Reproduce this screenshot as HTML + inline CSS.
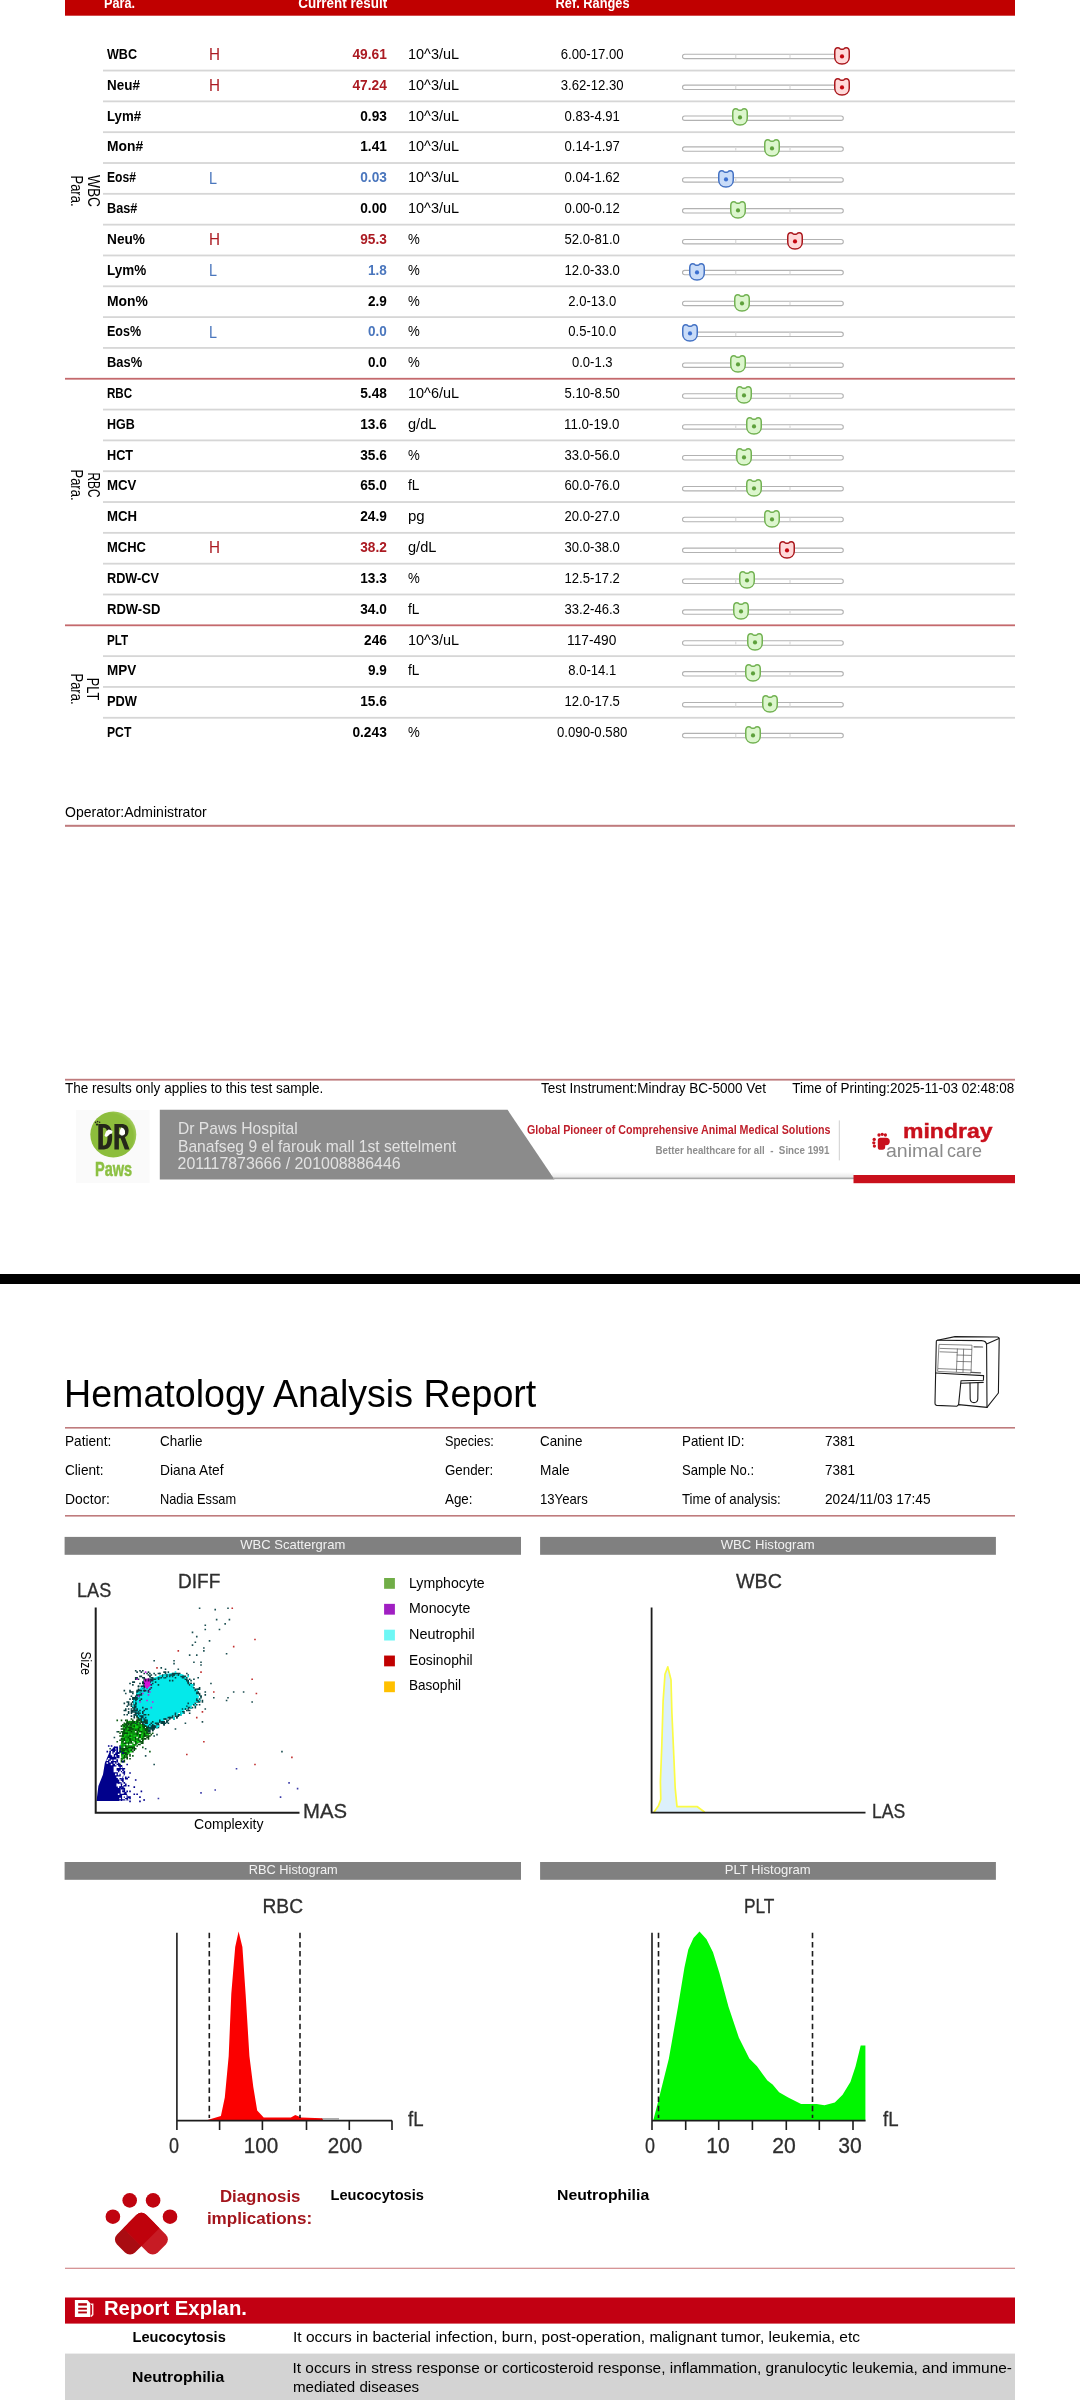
<!DOCTYPE html>
<html><head><meta charset="utf-8"><title>Hematology Analysis Report</title>
<style>
html,body{margin:0;padding:0;background:#fff}
body{width:1080px;height:2400px;position:relative;overflow:hidden;font-family:"Liberation Sans",sans-serif;color:#000}
.t{position:absolute;white-space:pre;line-height:1;margin:0;padding:0}
#pg{position:absolute;left:0;top:0;width:1080px;height:2400px;will-change:transform}
.r,.a{position:absolute;display:block}
.trk{width:161.5px;height:5.5px;box-sizing:border-box;border:1.1px solid #b4b4b4;border-radius:3px;background:#fff}
.trk i{position:absolute;top:0;width:1.4px;height:100%;background:#dcdcdc}
</style></head><body><div id="pg">
<svg class="a" style="left:0;top:0" width="1080" height="2400" viewBox="0 0 1080 2400">
<rect x="65.00" y="0.00" width="950.00" height="15.70" fill="#c00000"/>
<rect x="103.00" y="69.65" width="912.00" height="1.80" fill="#d6d6d6"/>
<rect x="682.5" y="54.25" width="160.8" height="4.4" rx="2.2" fill="#fff" stroke="#b2b2b2" stroke-width="1.1"/><rect x="735" y="54.80" width="1.4" height="3.3" fill="#dedede"/><rect x="789.3" y="54.80" width="1.4" height="3.3" fill="#dedede"/>
<rect x="103.00" y="100.47" width="912.00" height="1.80" fill="#d6d6d6"/>
<rect x="682.5" y="85.12" width="160.8" height="4.4" rx="2.2" fill="#fff" stroke="#b2b2b2" stroke-width="1.1"/><rect x="735" y="85.67" width="1.4" height="3.3" fill="#dedede"/><rect x="789.3" y="85.67" width="1.4" height="3.3" fill="#dedede"/>
<rect x="103.00" y="131.29" width="912.00" height="1.80" fill="#d6d6d6"/>
<rect x="682.5" y="115.99" width="160.8" height="4.4" rx="2.2" fill="#fff" stroke="#b2b2b2" stroke-width="1.1"/><rect x="735" y="116.54" width="1.4" height="3.3" fill="#dedede"/><rect x="789.3" y="116.54" width="1.4" height="3.3" fill="#dedede"/>
<rect x="103.00" y="162.11" width="912.00" height="1.80" fill="#d6d6d6"/>
<rect x="682.5" y="146.86" width="160.8" height="4.4" rx="2.2" fill="#fff" stroke="#b2b2b2" stroke-width="1.1"/><rect x="735" y="147.41" width="1.4" height="3.3" fill="#dedede"/><rect x="789.3" y="147.41" width="1.4" height="3.3" fill="#dedede"/>
<rect x="103.00" y="192.93" width="912.00" height="1.80" fill="#d6d6d6"/>
<rect x="682.5" y="177.73" width="160.8" height="4.4" rx="2.2" fill="#fff" stroke="#b2b2b2" stroke-width="1.1"/><rect x="735" y="178.28" width="1.4" height="3.3" fill="#dedede"/><rect x="789.3" y="178.28" width="1.4" height="3.3" fill="#dedede"/>
<rect x="103.00" y="223.75" width="912.00" height="1.80" fill="#d6d6d6"/>
<rect x="682.5" y="208.60" width="160.8" height="4.4" rx="2.2" fill="#fff" stroke="#b2b2b2" stroke-width="1.1"/><rect x="735" y="209.15" width="1.4" height="3.3" fill="#dedede"/><rect x="789.3" y="209.15" width="1.4" height="3.3" fill="#dedede"/>
<rect x="103.00" y="254.57" width="912.00" height="1.80" fill="#d6d6d6"/>
<rect x="682.5" y="239.47" width="160.8" height="4.4" rx="2.2" fill="#fff" stroke="#b2b2b2" stroke-width="1.1"/><rect x="735" y="240.02" width="1.4" height="3.3" fill="#dedede"/><rect x="789.3" y="240.02" width="1.4" height="3.3" fill="#dedede"/>
<rect x="103.00" y="285.39" width="912.00" height="1.80" fill="#d6d6d6"/>
<rect x="682.5" y="270.34" width="160.8" height="4.4" rx="2.2" fill="#fff" stroke="#b2b2b2" stroke-width="1.1"/><rect x="735" y="270.89" width="1.4" height="3.3" fill="#dedede"/><rect x="789.3" y="270.89" width="1.4" height="3.3" fill="#dedede"/>
<rect x="103.00" y="316.21" width="912.00" height="1.80" fill="#d6d6d6"/>
<rect x="682.5" y="301.21" width="160.8" height="4.4" rx="2.2" fill="#fff" stroke="#b2b2b2" stroke-width="1.1"/><rect x="735" y="301.76" width="1.4" height="3.3" fill="#dedede"/><rect x="789.3" y="301.76" width="1.4" height="3.3" fill="#dedede"/>
<rect x="103.00" y="347.03" width="912.00" height="1.80" fill="#d6d6d6"/>
<rect x="682.5" y="332.08" width="160.8" height="4.4" rx="2.2" fill="#fff" stroke="#b2b2b2" stroke-width="1.1"/><rect x="735" y="332.63" width="1.4" height="3.3" fill="#dedede"/><rect x="789.3" y="332.63" width="1.4" height="3.3" fill="#dedede"/>
<rect x="65.00" y="377.85" width="950.00" height="1.80" fill="#c4696c"/>
<rect x="682.5" y="362.95" width="160.8" height="4.4" rx="2.2" fill="#fff" stroke="#b2b2b2" stroke-width="1.1"/><rect x="735" y="363.50" width="1.4" height="3.3" fill="#dedede"/><rect x="789.3" y="363.50" width="1.4" height="3.3" fill="#dedede"/>
<rect x="103.00" y="408.67" width="912.00" height="1.80" fill="#d6d6d6"/>
<rect x="682.5" y="393.82" width="160.8" height="4.4" rx="2.2" fill="#fff" stroke="#b2b2b2" stroke-width="1.1"/><rect x="735" y="394.37" width="1.4" height="3.3" fill="#dedede"/><rect x="789.3" y="394.37" width="1.4" height="3.3" fill="#dedede"/>
<rect x="103.00" y="439.49" width="912.00" height="1.80" fill="#d6d6d6"/>
<rect x="682.5" y="424.69" width="160.8" height="4.4" rx="2.2" fill="#fff" stroke="#b2b2b2" stroke-width="1.1"/><rect x="735" y="425.24" width="1.4" height="3.3" fill="#dedede"/><rect x="789.3" y="425.24" width="1.4" height="3.3" fill="#dedede"/>
<rect x="103.00" y="470.31" width="912.00" height="1.80" fill="#d6d6d6"/>
<rect x="682.5" y="455.56" width="160.8" height="4.4" rx="2.2" fill="#fff" stroke="#b2b2b2" stroke-width="1.1"/><rect x="735" y="456.11" width="1.4" height="3.3" fill="#dedede"/><rect x="789.3" y="456.11" width="1.4" height="3.3" fill="#dedede"/>
<rect x="103.00" y="501.13" width="912.00" height="1.80" fill="#d6d6d6"/>
<rect x="682.5" y="486.43" width="160.8" height="4.4" rx="2.2" fill="#fff" stroke="#b2b2b2" stroke-width="1.1"/><rect x="735" y="486.98" width="1.4" height="3.3" fill="#dedede"/><rect x="789.3" y="486.98" width="1.4" height="3.3" fill="#dedede"/>
<rect x="103.00" y="531.95" width="912.00" height="1.80" fill="#d6d6d6"/>
<rect x="682.5" y="517.30" width="160.8" height="4.4" rx="2.2" fill="#fff" stroke="#b2b2b2" stroke-width="1.1"/><rect x="735" y="517.85" width="1.4" height="3.3" fill="#dedede"/><rect x="789.3" y="517.85" width="1.4" height="3.3" fill="#dedede"/>
<rect x="103.00" y="562.77" width="912.00" height="1.80" fill="#d6d6d6"/>
<rect x="682.5" y="548.17" width="160.8" height="4.4" rx="2.2" fill="#fff" stroke="#b2b2b2" stroke-width="1.1"/><rect x="735" y="548.72" width="1.4" height="3.3" fill="#dedede"/><rect x="789.3" y="548.72" width="1.4" height="3.3" fill="#dedede"/>
<rect x="103.00" y="593.59" width="912.00" height="1.80" fill="#d6d6d6"/>
<rect x="682.5" y="579.04" width="160.8" height="4.4" rx="2.2" fill="#fff" stroke="#b2b2b2" stroke-width="1.1"/><rect x="735" y="579.59" width="1.4" height="3.3" fill="#dedede"/><rect x="789.3" y="579.59" width="1.4" height="3.3" fill="#dedede"/>
<rect x="65.00" y="624.41" width="950.00" height="1.80" fill="#c4696c"/>
<rect x="682.5" y="609.91" width="160.8" height="4.4" rx="2.2" fill="#fff" stroke="#b2b2b2" stroke-width="1.1"/><rect x="735" y="610.46" width="1.4" height="3.3" fill="#dedede"/><rect x="789.3" y="610.46" width="1.4" height="3.3" fill="#dedede"/>
<rect x="103.00" y="655.23" width="912.00" height="1.80" fill="#d6d6d6"/>
<rect x="682.5" y="640.78" width="160.8" height="4.4" rx="2.2" fill="#fff" stroke="#b2b2b2" stroke-width="1.1"/><rect x="735" y="641.33" width="1.4" height="3.3" fill="#dedede"/><rect x="789.3" y="641.33" width="1.4" height="3.3" fill="#dedede"/>
<rect x="103.00" y="686.05" width="912.00" height="1.80" fill="#d6d6d6"/>
<rect x="682.5" y="671.65" width="160.8" height="4.4" rx="2.2" fill="#fff" stroke="#b2b2b2" stroke-width="1.1"/><rect x="735" y="672.20" width="1.4" height="3.3" fill="#dedede"/><rect x="789.3" y="672.20" width="1.4" height="3.3" fill="#dedede"/>
<rect x="103.00" y="716.87" width="912.00" height="1.80" fill="#d6d6d6"/>
<rect x="682.5" y="702.52" width="160.8" height="4.4" rx="2.2" fill="#fff" stroke="#b2b2b2" stroke-width="1.1"/><rect x="735" y="703.07" width="1.4" height="3.3" fill="#dedede"/><rect x="789.3" y="703.07" width="1.4" height="3.3" fill="#dedede"/>
<rect x="682.5" y="733.39" width="160.8" height="4.4" rx="2.2" fill="#fff" stroke="#b2b2b2" stroke-width="1.1"/><rect x="735" y="733.94" width="1.4" height="3.3" fill="#dedede"/><rect x="789.3" y="733.94" width="1.4" height="3.3" fill="#dedede"/>
<rect x="65.00" y="824.80" width="950.00" height="2.00" fill="#bf7b7d"/>
<rect x="65.00" y="1078.80" width="950.00" height="1.80" fill="#bf7b7d"/>
<rect x="0.00" y="1274.00" width="1080.00" height="10.00" fill="#000"/>
<rect x="65.00" y="1427.00" width="950.00" height="1.60" fill="#bf7b7d"/>
<rect x="65.00" y="1515.00" width="950.00" height="1.60" fill="#bf7b7d"/>
<rect x="64.60" y="1536.90" width="456.40" height="17.90" fill="#808080"/>
<rect x="540.10" y="1536.90" width="455.80" height="17.90" fill="#808080"/>
<rect x="64.60" y="1862.00" width="456.40" height="17.80" fill="#808080"/>
<rect x="540.10" y="1862.00" width="455.80" height="17.80" fill="#808080"/>
<rect x="384.10" y="1578.00" width="10.80" height="10.80" fill="#70ad47"/>
<rect x="384.10" y="1603.85" width="10.80" height="10.80" fill="#a01fc2"/>
<rect x="384.10" y="1629.70" width="10.80" height="10.80" fill="#6df7f5"/>
<rect x="384.10" y="1655.55" width="10.80" height="10.80" fill="#c00000"/>
<rect x="384.10" y="1681.40" width="10.80" height="10.80" fill="#ffc000"/>
<rect x="65.00" y="2267.70" width="950.00" height="1.20" fill="#d28a8c"/>
<rect x="65.00" y="2297.50" width="950.00" height="26.10" fill="#c20012"/>
<rect x="65.00" y="2353.60" width="950.00" height="46.40" fill="#d3d3d3"/>
</svg>
<!-- table -->
<div class="t" style="top:-4.39px;font-size:14.40px;color:#fff;font-weight:700;left:103.50px;transform:scaleX(0.8801);transform-origin:0 0;">Para.</div>
<div class="t" style="top:-4.39px;font-size:14.40px;color:#fff;font-weight:700;left:292.29px;transform:scaleX(0.9348);transform-origin:100% 0;">Current result</div>
<div class="t" style="top:-4.39px;font-size:14.40px;color:#fff;font-weight:700;left:550.79px;transform:scaleX(0.8893);transform-origin:50% 0;">Ref. Ranges</div>
<div class="t" style="top:46.95px;font-size:14.30px;color:#000;font-weight:700;left:107.30px;transform:scaleX(0.8786);transform-origin:0 0;">WBC</div>
<div class="t" style="top:46.34px;font-size:16.20px;color:#ab1a22;left:208.60px;transform:scaleX(0.9403);transform-origin:0 0;">H</div>
<div class="t" style="top:46.95px;font-size:14.30px;color:#ab1a22;font-weight:700;left:351.21px;transform:scaleX(0.9612);transform-origin:100% 0;">49.61</div>
<div class="t" style="top:46.95px;font-size:14.30px;color:#000;left:407.50px;transform:scaleX(1.0121);transform-origin:0 0;">10^3/uL</div>
<div class="t" style="top:46.95px;font-size:14.30px;color:#000;left:557.81px;transform:scaleX(0.9186);transform-origin:50% 0;">6.00-17.00</div>
<svg class="a" style="left:832.80px;top:45.65px" width="18" height="20" viewBox="-1 -1 18 20"><path d="M0.75 4.8 C0.75 1.6 2.2 0.75 3.8 0.75 C5 0.75 5.6 1.3 6.1 1.8 Q8 2.9 9.9 1.8 C10.4 1.3 11 0.75 12.2 0.75 C13.8 0.75 15.25 1.6 15.25 4.8 L15.25 10.2 C15.25 14.6 12 17 8 17 C4 17 0.75 14.6 0.75 10.2 Z" fill="#ffd9d9" stroke="#aa171c" stroke-width="1.5"/><circle cx="8" cy="9.4" r="2.1" fill="#c4060f"/></svg>
<div class="t" style="top:77.77px;font-size:14.30px;color:#000;font-weight:700;left:107.30px;transform:scaleX(0.9409);transform-origin:0 0;">Neu#</div>
<div class="t" style="top:77.16px;font-size:16.20px;color:#ab1a22;left:208.60px;transform:scaleX(0.9403);transform-origin:0 0;">H</div>
<div class="t" style="top:77.77px;font-size:14.30px;color:#ab1a22;font-weight:700;left:351.21px;transform:scaleX(0.9612);transform-origin:100% 0;">47.24</div>
<div class="t" style="top:77.77px;font-size:14.30px;color:#000;left:407.50px;transform:scaleX(1.0121);transform-origin:0 0;">10^3/uL</div>
<div class="t" style="top:77.77px;font-size:14.30px;color:#000;left:557.81px;transform:scaleX(0.9186);transform-origin:50% 0;">3.62-12.30</div>
<svg class="a" style="left:832.80px;top:76.52px" width="18" height="20" viewBox="-1 -1 18 20"><path d="M0.75 4.8 C0.75 1.6 2.2 0.75 3.8 0.75 C5 0.75 5.6 1.3 6.1 1.8 Q8 2.9 9.9 1.8 C10.4 1.3 11 0.75 12.2 0.75 C13.8 0.75 15.25 1.6 15.25 4.8 L15.25 10.2 C15.25 14.6 12 17 8 17 C4 17 0.75 14.6 0.75 10.2 Z" fill="#ffd9d9" stroke="#aa171c" stroke-width="1.5"/><circle cx="8" cy="9.4" r="2.1" fill="#c4060f"/></svg>
<div class="t" style="top:108.59px;font-size:14.30px;color:#000;font-weight:700;left:107.30px;transform:scaleX(0.9259);transform-origin:0 0;">Lym#</div>
<div class="t" style="top:108.59px;font-size:14.30px;color:#000;font-weight:700;left:359.16px;transform:scaleX(0.9556);transform-origin:100% 0;">0.93</div>
<div class="t" style="top:108.59px;font-size:14.30px;color:#000;left:407.50px;transform:scaleX(1.0121);transform-origin:0 0;">10^3/uL</div>
<div class="t" style="top:108.59px;font-size:14.30px;color:#000;left:561.78px;transform:scaleX(0.9165);transform-origin:50% 0;">0.83-4.91</div>
<svg class="a" style="left:731.00px;top:107.39px" width="18" height="20" viewBox="-1 -1 18 20"><path d="M0.75 4.8 C0.75 1.6 2.2 0.75 3.8 0.75 C5 0.75 5.6 1.3 6.1 1.8 Q8 2.9 9.9 1.8 C10.4 1.3 11 0.75 12.2 0.75 C13.8 0.75 15.25 1.6 15.25 4.8 L15.25 10.2 C15.25 14.6 12 17 8 17 C4 17 0.75 14.6 0.75 10.2 Z" fill="#dcf6cd" stroke="#72b252" stroke-width="1.5"/><circle cx="8" cy="9.4" r="2.1" fill="#5ea13c"/></svg>
<div class="t" style="top:139.41px;font-size:14.30px;color:#000;font-weight:700;left:107.30px;transform:scaleX(0.9670);transform-origin:0 0;">Mon#</div>
<div class="t" style="top:139.41px;font-size:14.30px;color:#000;font-weight:700;left:359.16px;transform:scaleX(0.9556);transform-origin:100% 0;">1.41</div>
<div class="t" style="top:139.41px;font-size:14.30px;color:#000;left:407.50px;transform:scaleX(1.0121);transform-origin:0 0;">10^3/uL</div>
<div class="t" style="top:139.41px;font-size:14.30px;color:#000;left:561.78px;transform:scaleX(0.9165);transform-origin:50% 0;">0.14-1.97</div>
<svg class="a" style="left:762.90px;top:138.26px" width="18" height="20" viewBox="-1 -1 18 20"><path d="M0.75 4.8 C0.75 1.6 2.2 0.75 3.8 0.75 C5 0.75 5.6 1.3 6.1 1.8 Q8 2.9 9.9 1.8 C10.4 1.3 11 0.75 12.2 0.75 C13.8 0.75 15.25 1.6 15.25 4.8 L15.25 10.2 C15.25 14.6 12 17 8 17 C4 17 0.75 14.6 0.75 10.2 Z" fill="#dcf6cd" stroke="#72b252" stroke-width="1.5"/><circle cx="8" cy="9.4" r="2.1" fill="#5ea13c"/></svg>
<div class="t" style="top:170.23px;font-size:14.30px;color:#000;font-weight:700;left:107.30px;transform:scaleX(0.8485);transform-origin:0 0;">Eos#</div>
<div class="t" style="top:169.62px;font-size:16.20px;color:#4a76bd;left:209.00px;transform:scaleX(0.8878);transform-origin:0 0;">L</div>
<div class="t" style="top:170.23px;font-size:14.30px;color:#4a76bd;font-weight:700;left:359.16px;transform:scaleX(0.9556);transform-origin:100% 0;">0.03</div>
<div class="t" style="top:170.23px;font-size:14.30px;color:#000;left:407.50px;transform:scaleX(1.0121);transform-origin:0 0;">10^3/uL</div>
<div class="t" style="top:170.23px;font-size:14.30px;color:#000;left:561.78px;transform:scaleX(0.9165);transform-origin:50% 0;">0.04-1.62</div>
<svg class="a" style="left:716.90px;top:169.13px" width="18" height="20" viewBox="-1 -1 18 20"><path d="M0.75 4.8 C0.75 1.6 2.2 0.75 3.8 0.75 C5 0.75 5.6 1.3 6.1 1.8 Q8 2.9 9.9 1.8 C10.4 1.3 11 0.75 12.2 0.75 C13.8 0.75 15.25 1.6 15.25 4.8 L15.25 10.2 C15.25 14.6 12 17 8 17 C4 17 0.75 14.6 0.75 10.2 Z" fill="#c9dcf8" stroke="#4472c4" stroke-width="1.5"/><circle cx="8" cy="9.4" r="2.1" fill="#3b6fd0"/></svg>
<div class="t" style="top:201.05px;font-size:14.30px;color:#000;font-weight:700;left:107.30px;transform:scaleX(0.8863);transform-origin:0 0;">Bas#</div>
<div class="t" style="top:201.05px;font-size:14.30px;color:#000;font-weight:700;left:359.16px;transform:scaleX(0.9556);transform-origin:100% 0;">0.00</div>
<div class="t" style="top:201.05px;font-size:14.30px;color:#000;left:407.50px;transform:scaleX(1.0121);transform-origin:0 0;">10^3/uL</div>
<div class="t" style="top:201.05px;font-size:14.30px;color:#000;left:561.78px;transform:scaleX(0.9165);transform-origin:50% 0;">0.00-0.12</div>
<svg class="a" style="left:729.00px;top:200.00px" width="18" height="20" viewBox="-1 -1 18 20"><path d="M0.75 4.8 C0.75 1.6 2.2 0.75 3.8 0.75 C5 0.75 5.6 1.3 6.1 1.8 Q8 2.9 9.9 1.8 C10.4 1.3 11 0.75 12.2 0.75 C13.8 0.75 15.25 1.6 15.25 4.8 L15.25 10.2 C15.25 14.6 12 17 8 17 C4 17 0.75 14.6 0.75 10.2 Z" fill="#dcf6cd" stroke="#72b252" stroke-width="1.5"/><circle cx="8" cy="9.4" r="2.1" fill="#5ea13c"/></svg>
<div class="t" style="top:231.87px;font-size:14.30px;color:#000;font-weight:700;left:107.30px;transform:scaleX(0.9565);transform-origin:0 0;">Neu%</div>
<div class="t" style="top:231.26px;font-size:16.20px;color:#ab1a22;left:208.60px;transform:scaleX(0.9403);transform-origin:0 0;">H</div>
<div class="t" style="top:231.87px;font-size:14.30px;color:#ab1a22;font-weight:700;left:359.16px;transform:scaleX(0.9556);transform-origin:100% 0;">95.3</div>
<div class="t" style="top:231.87px;font-size:14.30px;color:#000;left:407.50px;transform:scaleX(0.9267);transform-origin:0 0;">%</div>
<div class="t" style="top:231.87px;font-size:14.30px;color:#000;left:561.78px;transform:scaleX(0.9165);transform-origin:50% 0;">52.0-81.0</div>
<svg class="a" style="left:786.00px;top:230.87px" width="18" height="20" viewBox="-1 -1 18 20"><path d="M0.75 4.8 C0.75 1.6 2.2 0.75 3.8 0.75 C5 0.75 5.6 1.3 6.1 1.8 Q8 2.9 9.9 1.8 C10.4 1.3 11 0.75 12.2 0.75 C13.8 0.75 15.25 1.6 15.25 4.8 L15.25 10.2 C15.25 14.6 12 17 8 17 C4 17 0.75 14.6 0.75 10.2 Z" fill="#ffd9d9" stroke="#aa171c" stroke-width="1.5"/><circle cx="8" cy="9.4" r="2.1" fill="#c4060f"/></svg>
<div class="t" style="top:262.69px;font-size:14.30px;color:#000;font-weight:700;left:107.30px;transform:scaleX(0.9425);transform-origin:0 0;">Lym%</div>
<div class="t" style="top:262.08px;font-size:16.20px;color:#4a76bd;left:209.00px;transform:scaleX(0.8878);transform-origin:0 0;">L</div>
<div class="t" style="top:262.69px;font-size:14.30px;color:#4a76bd;font-weight:700;left:367.12px;transform:scaleX(0.9456);transform-origin:100% 0;">1.8</div>
<div class="t" style="top:262.69px;font-size:14.30px;color:#000;left:407.50px;transform:scaleX(0.9267);transform-origin:0 0;">%</div>
<div class="t" style="top:262.69px;font-size:14.30px;color:#000;left:561.78px;transform:scaleX(0.9165);transform-origin:50% 0;">12.0-33.0</div>
<svg class="a" style="left:688.00px;top:261.74px" width="18" height="20" viewBox="-1 -1 18 20"><path d="M0.75 4.8 C0.75 1.6 2.2 0.75 3.8 0.75 C5 0.75 5.6 1.3 6.1 1.8 Q8 2.9 9.9 1.8 C10.4 1.3 11 0.75 12.2 0.75 C13.8 0.75 15.25 1.6 15.25 4.8 L15.25 10.2 C15.25 14.6 12 17 8 17 C4 17 0.75 14.6 0.75 10.2 Z" fill="#c9dcf8" stroke="#4472c4" stroke-width="1.5"/><circle cx="8" cy="9.4" r="2.1" fill="#3b6fd0"/></svg>
<div class="t" style="top:293.51px;font-size:14.30px;color:#000;font-weight:700;left:107.30px;transform:scaleX(0.9716);transform-origin:0 0;">Mon%</div>
<div class="t" style="top:293.51px;font-size:14.30px;color:#000;font-weight:700;left:367.12px;transform:scaleX(0.9456);transform-origin:100% 0;">2.9</div>
<div class="t" style="top:293.51px;font-size:14.30px;color:#000;left:407.50px;transform:scaleX(0.9267);transform-origin:0 0;">%</div>
<div class="t" style="top:293.51px;font-size:14.30px;color:#000;left:565.76px;transform:scaleX(0.9136);transform-origin:50% 0;">2.0-13.0</div>
<svg class="a" style="left:732.50px;top:292.61px" width="18" height="20" viewBox="-1 -1 18 20"><path d="M0.75 4.8 C0.75 1.6 2.2 0.75 3.8 0.75 C5 0.75 5.6 1.3 6.1 1.8 Q8 2.9 9.9 1.8 C10.4 1.3 11 0.75 12.2 0.75 C13.8 0.75 15.25 1.6 15.25 4.8 L15.25 10.2 C15.25 14.6 12 17 8 17 C4 17 0.75 14.6 0.75 10.2 Z" fill="#dcf6cd" stroke="#72b252" stroke-width="1.5"/><circle cx="8" cy="9.4" r="2.1" fill="#5ea13c"/></svg>
<div class="t" style="top:324.33px;font-size:14.30px;color:#000;font-weight:700;left:107.30px;transform:scaleX(0.8757);transform-origin:0 0;">Eos%</div>
<div class="t" style="top:323.72px;font-size:16.20px;color:#4a76bd;left:209.00px;transform:scaleX(0.8878);transform-origin:0 0;">L</div>
<div class="t" style="top:324.33px;font-size:14.30px;color:#4a76bd;font-weight:700;left:367.12px;transform:scaleX(0.9456);transform-origin:100% 0;">0.0</div>
<div class="t" style="top:324.33px;font-size:14.30px;color:#000;left:407.50px;transform:scaleX(0.9267);transform-origin:0 0;">%</div>
<div class="t" style="top:324.33px;font-size:14.30px;color:#000;left:565.76px;transform:scaleX(0.9136);transform-origin:50% 0;">0.5-10.0</div>
<svg class="a" style="left:681.00px;top:323.48px" width="18" height="20" viewBox="-1 -1 18 20"><path d="M0.75 4.8 C0.75 1.6 2.2 0.75 3.8 0.75 C5 0.75 5.6 1.3 6.1 1.8 Q8 2.9 9.9 1.8 C10.4 1.3 11 0.75 12.2 0.75 C13.8 0.75 15.25 1.6 15.25 4.8 L15.25 10.2 C15.25 14.6 12 17 8 17 C4 17 0.75 14.6 0.75 10.2 Z" fill="#c9dcf8" stroke="#4472c4" stroke-width="1.5"/><circle cx="8" cy="9.4" r="2.1" fill="#3b6fd0"/></svg>
<div class="t" style="top:355.15px;font-size:14.30px;color:#000;font-weight:700;left:107.30px;transform:scaleX(0.9012);transform-origin:0 0;">Bas%</div>
<div class="t" style="top:355.15px;font-size:14.30px;color:#000;font-weight:700;left:367.12px;transform:scaleX(0.9456);transform-origin:100% 0;">0.0</div>
<div class="t" style="top:355.15px;font-size:14.30px;color:#000;left:407.50px;transform:scaleX(0.9267);transform-origin:0 0;">%</div>
<div class="t" style="top:355.15px;font-size:14.30px;color:#000;left:569.74px;transform:scaleX(0.9098);transform-origin:50% 0;">0.0-1.3</div>
<svg class="a" style="left:729.00px;top:354.35px" width="18" height="20" viewBox="-1 -1 18 20"><path d="M0.75 4.8 C0.75 1.6 2.2 0.75 3.8 0.75 C5 0.75 5.6 1.3 6.1 1.8 Q8 2.9 9.9 1.8 C10.4 1.3 11 0.75 12.2 0.75 C13.8 0.75 15.25 1.6 15.25 4.8 L15.25 10.2 C15.25 14.6 12 17 8 17 C4 17 0.75 14.6 0.75 10.2 Z" fill="#dcf6cd" stroke="#72b252" stroke-width="1.5"/><circle cx="8" cy="9.4" r="2.1" fill="#5ea13c"/></svg>
<div class="t" style="top:385.97px;font-size:14.30px;color:#000;font-weight:700;left:107.30px;transform:scaleX(0.8103);transform-origin:0 0;">RBC</div>
<div class="t" style="top:385.97px;font-size:14.30px;color:#000;font-weight:700;left:359.16px;transform:scaleX(0.9556);transform-origin:100% 0;">5.48</div>
<div class="t" style="top:385.97px;font-size:14.30px;color:#000;left:407.50px;transform:scaleX(1.0121);transform-origin:0 0;">10^6/uL</div>
<div class="t" style="top:385.97px;font-size:14.30px;color:#000;left:561.78px;transform:scaleX(0.9165);transform-origin:50% 0;">5.10-8.50</div>
<svg class="a" style="left:734.50px;top:385.22px" width="18" height="20" viewBox="-1 -1 18 20"><path d="M0.75 4.8 C0.75 1.6 2.2 0.75 3.8 0.75 C5 0.75 5.6 1.3 6.1 1.8 Q8 2.9 9.9 1.8 C10.4 1.3 11 0.75 12.2 0.75 C13.8 0.75 15.25 1.6 15.25 4.8 L15.25 10.2 C15.25 14.6 12 17 8 17 C4 17 0.75 14.6 0.75 10.2 Z" fill="#dcf6cd" stroke="#72b252" stroke-width="1.5"/><circle cx="8" cy="9.4" r="2.1" fill="#5ea13c"/></svg>
<div class="t" style="top:416.79px;font-size:14.30px;color:#000;font-weight:700;left:107.30px;transform:scaleX(0.8749);transform-origin:0 0;">HGB</div>
<div class="t" style="top:416.79px;font-size:14.30px;color:#000;font-weight:700;left:359.16px;transform:scaleX(0.9556);transform-origin:100% 0;">13.6</div>
<div class="t" style="top:416.79px;font-size:14.30px;color:#000;left:407.50px;transform:scaleX(1.0203);transform-origin:0 0;">g/dL</div>
<div class="t" style="top:416.79px;font-size:14.30px;color:#000;left:562.31px;transform:scaleX(0.9329);transform-origin:50% 0;">11.0-19.0</div>
<svg class="a" style="left:745.00px;top:416.09px" width="18" height="20" viewBox="-1 -1 18 20"><path d="M0.75 4.8 C0.75 1.6 2.2 0.75 3.8 0.75 C5 0.75 5.6 1.3 6.1 1.8 Q8 2.9 9.9 1.8 C10.4 1.3 11 0.75 12.2 0.75 C13.8 0.75 15.25 1.6 15.25 4.8 L15.25 10.2 C15.25 14.6 12 17 8 17 C4 17 0.75 14.6 0.75 10.2 Z" fill="#dcf6cd" stroke="#72b252" stroke-width="1.5"/><circle cx="8" cy="9.4" r="2.1" fill="#5ea13c"/></svg>
<div class="t" style="top:447.61px;font-size:14.30px;color:#000;font-weight:700;left:107.30px;transform:scaleX(0.8882);transform-origin:0 0;">HCT</div>
<div class="t" style="top:447.61px;font-size:14.30px;color:#000;font-weight:700;left:359.16px;transform:scaleX(0.9556);transform-origin:100% 0;">35.6</div>
<div class="t" style="top:447.61px;font-size:14.30px;color:#000;left:407.50px;transform:scaleX(0.9267);transform-origin:0 0;">%</div>
<div class="t" style="top:447.61px;font-size:14.30px;color:#000;left:561.78px;transform:scaleX(0.9165);transform-origin:50% 0;">33.0-56.0</div>
<svg class="a" style="left:734.50px;top:446.96px" width="18" height="20" viewBox="-1 -1 18 20"><path d="M0.75 4.8 C0.75 1.6 2.2 0.75 3.8 0.75 C5 0.75 5.6 1.3 6.1 1.8 Q8 2.9 9.9 1.8 C10.4 1.3 11 0.75 12.2 0.75 C13.8 0.75 15.25 1.6 15.25 4.8 L15.25 10.2 C15.25 14.6 12 17 8 17 C4 17 0.75 14.6 0.75 10.2 Z" fill="#dcf6cd" stroke="#72b252" stroke-width="1.5"/><circle cx="8" cy="9.4" r="2.1" fill="#5ea13c"/></svg>
<div class="t" style="top:478.43px;font-size:14.30px;color:#000;font-weight:700;left:107.30px;transform:scaleX(0.9253);transform-origin:0 0;">MCV</div>
<div class="t" style="top:478.43px;font-size:14.30px;color:#000;font-weight:700;left:359.16px;transform:scaleX(0.9556);transform-origin:100% 0;">65.0</div>
<div class="t" style="top:478.43px;font-size:14.30px;color:#000;left:407.50px;transform:scaleX(0.9539);transform-origin:0 0;">fL</div>
<div class="t" style="top:478.43px;font-size:14.30px;color:#000;left:561.78px;transform:scaleX(0.9165);transform-origin:50% 0;">60.0-76.0</div>
<svg class="a" style="left:744.50px;top:477.83px" width="18" height="20" viewBox="-1 -1 18 20"><path d="M0.75 4.8 C0.75 1.6 2.2 0.75 3.8 0.75 C5 0.75 5.6 1.3 6.1 1.8 Q8 2.9 9.9 1.8 C10.4 1.3 11 0.75 12.2 0.75 C13.8 0.75 15.25 1.6 15.25 4.8 L15.25 10.2 C15.25 14.6 12 17 8 17 C4 17 0.75 14.6 0.75 10.2 Z" fill="#dcf6cd" stroke="#72b252" stroke-width="1.5"/><circle cx="8" cy="9.4" r="2.1" fill="#5ea13c"/></svg>
<div class="t" style="top:509.25px;font-size:14.30px;color:#000;font-weight:700;left:107.30px;transform:scaleX(0.9213);transform-origin:0 0;">MCH</div>
<div class="t" style="top:509.25px;font-size:14.30px;color:#000;font-weight:700;left:359.16px;transform:scaleX(0.9556);transform-origin:100% 0;">24.9</div>
<div class="t" style="top:509.25px;font-size:14.30px;color:#000;left:407.50px;transform:scaleX(1.0471);transform-origin:0 0;">pg</div>
<div class="t" style="top:509.25px;font-size:14.30px;color:#000;left:561.78px;transform:scaleX(0.9165);transform-origin:50% 0;">20.0-27.0</div>
<svg class="a" style="left:762.50px;top:508.70px" width="18" height="20" viewBox="-1 -1 18 20"><path d="M0.75 4.8 C0.75 1.6 2.2 0.75 3.8 0.75 C5 0.75 5.6 1.3 6.1 1.8 Q8 2.9 9.9 1.8 C10.4 1.3 11 0.75 12.2 0.75 C13.8 0.75 15.25 1.6 15.25 4.8 L15.25 10.2 C15.25 14.6 12 17 8 17 C4 17 0.75 14.6 0.75 10.2 Z" fill="#dcf6cd" stroke="#72b252" stroke-width="1.5"/><circle cx="8" cy="9.4" r="2.1" fill="#5ea13c"/></svg>
<div class="t" style="top:540.07px;font-size:14.30px;color:#000;font-weight:700;left:107.30px;transform:scaleX(0.9070);transform-origin:0 0;">MCHC</div>
<div class="t" style="top:539.46px;font-size:16.20px;color:#ab1a22;left:208.60px;transform:scaleX(0.9403);transform-origin:0 0;">H</div>
<div class="t" style="top:540.07px;font-size:14.30px;color:#ab1a22;font-weight:700;left:359.16px;transform:scaleX(0.9556);transform-origin:100% 0;">38.2</div>
<div class="t" style="top:540.07px;font-size:14.30px;color:#000;left:407.50px;transform:scaleX(1.0203);transform-origin:0 0;">g/dL</div>
<div class="t" style="top:540.07px;font-size:14.30px;color:#000;left:561.78px;transform:scaleX(0.9165);transform-origin:50% 0;">30.0-38.0</div>
<svg class="a" style="left:778.00px;top:539.57px" width="18" height="20" viewBox="-1 -1 18 20"><path d="M0.75 4.8 C0.75 1.6 2.2 0.75 3.8 0.75 C5 0.75 5.6 1.3 6.1 1.8 Q8 2.9 9.9 1.8 C10.4 1.3 11 0.75 12.2 0.75 C13.8 0.75 15.25 1.6 15.25 4.8 L15.25 10.2 C15.25 14.6 12 17 8 17 C4 17 0.75 14.6 0.75 10.2 Z" fill="#ffd9d9" stroke="#aa171c" stroke-width="1.5"/><circle cx="8" cy="9.4" r="2.1" fill="#c4060f"/></svg>
<div class="t" style="top:570.89px;font-size:14.30px;color:#000;font-weight:700;left:107.30px;transform:scaleX(0.8891);transform-origin:0 0;">RDW-CV</div>
<div class="t" style="top:570.89px;font-size:14.30px;color:#000;font-weight:700;left:359.16px;transform:scaleX(0.9556);transform-origin:100% 0;">13.3</div>
<div class="t" style="top:570.89px;font-size:14.30px;color:#000;left:407.50px;transform:scaleX(0.9267);transform-origin:0 0;">%</div>
<div class="t" style="top:570.89px;font-size:14.30px;color:#000;left:561.78px;transform:scaleX(0.9165);transform-origin:50% 0;">12.5-17.2</div>
<svg class="a" style="left:737.50px;top:570.44px" width="18" height="20" viewBox="-1 -1 18 20"><path d="M0.75 4.8 C0.75 1.6 2.2 0.75 3.8 0.75 C5 0.75 5.6 1.3 6.1 1.8 Q8 2.9 9.9 1.8 C10.4 1.3 11 0.75 12.2 0.75 C13.8 0.75 15.25 1.6 15.25 4.8 L15.25 10.2 C15.25 14.6 12 17 8 17 C4 17 0.75 14.6 0.75 10.2 Z" fill="#dcf6cd" stroke="#72b252" stroke-width="1.5"/><circle cx="8" cy="9.4" r="2.1" fill="#5ea13c"/></svg>
<div class="t" style="top:601.71px;font-size:14.30px;color:#000;font-weight:700;left:107.30px;transform:scaleX(0.9113);transform-origin:0 0;">RDW-SD</div>
<div class="t" style="top:601.71px;font-size:14.30px;color:#000;font-weight:700;left:359.16px;transform:scaleX(0.9556);transform-origin:100% 0;">34.0</div>
<div class="t" style="top:601.71px;font-size:14.30px;color:#000;left:407.50px;transform:scaleX(0.9539);transform-origin:0 0;">fL</div>
<div class="t" style="top:601.71px;font-size:14.30px;color:#000;left:561.78px;transform:scaleX(0.9165);transform-origin:50% 0;">33.2-46.3</div>
<svg class="a" style="left:731.50px;top:601.31px" width="18" height="20" viewBox="-1 -1 18 20"><path d="M0.75 4.8 C0.75 1.6 2.2 0.75 3.8 0.75 C5 0.75 5.6 1.3 6.1 1.8 Q8 2.9 9.9 1.8 C10.4 1.3 11 0.75 12.2 0.75 C13.8 0.75 15.25 1.6 15.25 4.8 L15.25 10.2 C15.25 14.6 12 17 8 17 C4 17 0.75 14.6 0.75 10.2 Z" fill="#dcf6cd" stroke="#72b252" stroke-width="1.5"/><circle cx="8" cy="9.4" r="2.1" fill="#5ea13c"/></svg>
<div class="t" style="top:632.53px;font-size:14.30px;color:#000;font-weight:700;left:107.30px;transform:scaleX(0.8172);transform-origin:0 0;">PLT</div>
<div class="t" style="top:632.53px;font-size:14.30px;color:#000;font-weight:700;left:363.14px;transform:scaleX(0.9555);transform-origin:100% 0;">246</div>
<div class="t" style="top:632.53px;font-size:14.30px;color:#000;left:407.50px;transform:scaleX(1.0121);transform-origin:0 0;">10^3/uL</div>
<div class="t" style="top:632.53px;font-size:14.30px;color:#000;left:566.29px;transform:scaleX(0.9603);transform-origin:50% 0;">117-490</div>
<svg class="a" style="left:745.50px;top:632.18px" width="18" height="20" viewBox="-1 -1 18 20"><path d="M0.75 4.8 C0.75 1.6 2.2 0.75 3.8 0.75 C5 0.75 5.6 1.3 6.1 1.8 Q8 2.9 9.9 1.8 C10.4 1.3 11 0.75 12.2 0.75 C13.8 0.75 15.25 1.6 15.25 4.8 L15.25 10.2 C15.25 14.6 12 17 8 17 C4 17 0.75 14.6 0.75 10.2 Z" fill="#dcf6cd" stroke="#72b252" stroke-width="1.5"/><circle cx="8" cy="9.4" r="2.1" fill="#5ea13c"/></svg>
<div class="t" style="top:663.35px;font-size:14.30px;color:#000;font-weight:700;left:107.30px;transform:scaleX(0.9423);transform-origin:0 0;">MPV</div>
<div class="t" style="top:663.35px;font-size:14.30px;color:#000;font-weight:700;left:367.12px;transform:scaleX(0.9456);transform-origin:100% 0;">9.9</div>
<div class="t" style="top:663.35px;font-size:14.30px;color:#000;left:407.50px;transform:scaleX(0.9539);transform-origin:0 0;">fL</div>
<div class="t" style="top:663.35px;font-size:14.30px;color:#000;left:565.76px;transform:scaleX(0.9136);transform-origin:50% 0;">8.0-14.1</div>
<svg class="a" style="left:744.00px;top:663.05px" width="18" height="20" viewBox="-1 -1 18 20"><path d="M0.75 4.8 C0.75 1.6 2.2 0.75 3.8 0.75 C5 0.75 5.6 1.3 6.1 1.8 Q8 2.9 9.9 1.8 C10.4 1.3 11 0.75 12.2 0.75 C13.8 0.75 15.25 1.6 15.25 4.8 L15.25 10.2 C15.25 14.6 12 17 8 17 C4 17 0.75 14.6 0.75 10.2 Z" fill="#dcf6cd" stroke="#72b252" stroke-width="1.5"/><circle cx="8" cy="9.4" r="2.1" fill="#5ea13c"/></svg>
<div class="t" style="top:694.17px;font-size:14.30px;color:#000;font-weight:700;left:107.30px;transform:scaleX(0.8993);transform-origin:0 0;">PDW</div>
<div class="t" style="top:694.17px;font-size:14.30px;color:#000;font-weight:700;left:359.16px;transform:scaleX(0.9556);transform-origin:100% 0;">15.6</div>
<div class="t" style="top:694.17px;font-size:14.30px;color:#000;left:561.78px;transform:scaleX(0.9165);transform-origin:50% 0;">12.0-17.5</div>
<svg class="a" style="left:760.50px;top:693.92px" width="18" height="20" viewBox="-1 -1 18 20"><path d="M0.75 4.8 C0.75 1.6 2.2 0.75 3.8 0.75 C5 0.75 5.6 1.3 6.1 1.8 Q8 2.9 9.9 1.8 C10.4 1.3 11 0.75 12.2 0.75 C13.8 0.75 15.25 1.6 15.25 4.8 L15.25 10.2 C15.25 14.6 12 17 8 17 C4 17 0.75 14.6 0.75 10.2 Z" fill="#dcf6cd" stroke="#72b252" stroke-width="1.5"/><circle cx="8" cy="9.4" r="2.1" fill="#5ea13c"/></svg>
<div class="t" style="top:724.99px;font-size:14.30px;color:#000;font-weight:700;left:107.30px;transform:scaleX(0.8498);transform-origin:0 0;">PCT</div>
<div class="t" style="top:724.99px;font-size:14.30px;color:#000;font-weight:700;left:351.21px;transform:scaleX(0.9612);transform-origin:100% 0;">0.243</div>
<div class="t" style="top:724.99px;font-size:14.30px;color:#000;left:407.50px;transform:scaleX(0.9267);transform-origin:0 0;">%</div>
<div class="t" style="top:724.99px;font-size:14.30px;color:#000;left:553.83px;transform:scaleX(0.9204);transform-origin:50% 0;">0.090-0.580</div>
<svg class="a" style="left:744.00px;top:724.79px" width="18" height="20" viewBox="-1 -1 18 20"><path d="M0.75 4.8 C0.75 1.6 2.2 0.75 3.8 0.75 C5 0.75 5.6 1.3 6.1 1.8 Q8 2.9 9.9 1.8 C10.4 1.3 11 0.75 12.2 0.75 C13.8 0.75 15.25 1.6 15.25 4.8 L15.25 10.2 C15.25 14.6 12 17 8 17 C4 17 0.75 14.6 0.75 10.2 Z" fill="#dcf6cd" stroke="#72b252" stroke-width="1.5"/><circle cx="8" cy="9.4" r="2.1" fill="#5ea13c"/></svg>
<div class="t" style="left:73.88px;top:183.00px;font-size:16.00px;transform:rotate(90deg) scaleX(0.8573);transform-origin:50% 50%;">WBC</div>
<div class="t" style="left:57.22px;top:183.00px;font-size:16.00px;transform:rotate(90deg) scaleX(0.8106);transform-origin:50% 50%;">Para.</div>
<div class="t" style="left:75.65px;top:476.60px;font-size:16.00px;transform:rotate(90deg) scaleX(0.7401);transform-origin:50% 50%;">RBC</div>
<div class="t" style="left:57.22px;top:476.60px;font-size:16.00px;transform:rotate(90deg) scaleX(0.8106);transform-origin:50% 50%;">Para.</div>
<div class="t" style="left:78.47px;top:680.80px;font-size:16.00px;transform:rotate(90deg) scaleX(0.7991);transform-origin:50% 50%;">PLT</div>
<div class="t" style="left:57.22px;top:680.80px;font-size:16.00px;transform:rotate(90deg) scaleX(0.8106);transform-origin:50% 50%;">Para.</div>
<!-- foot1 -->
<div class="t" style="top:805.10px;font-size:14.30px;color:#000;left:65.20px;transform:scaleX(0.9802);transform-origin:0 0;">Operator:Administrator</div>
<div class="t" style="top:1080.90px;font-size:14.30px;color:#000;left:65.40px;transform:scaleX(0.9451);transform-origin:0 0;">The results only applies to this test sample.</div>
<div class="t" style="top:1080.90px;font-size:14.30px;color:#000;left:541.00px;transform:scaleX(0.9467);transform-origin:0 0;">Test Instrument:Mindray BC-5000 Vet</div>
<div class="t" style="top:1080.90px;font-size:14.30px;color:#000;left:779.28px;transform:scaleX(0.9432);transform-origin:100% 0;">Time of Printing:2025-11-03 02:48:08</div>
<svg class="a" style="left:60px;top:1100px" width="970" height="95" viewBox="60 1100 970 95"><defs><linearGradient id="gl" x1="0" y1="0" x2="0" y2="1"><stop offset="0" stop-color="#fff"/><stop offset="1" stop-color="#e4e4e4"/></linearGradient><radialGradient id="gc" cx="0.42" cy="0.55" r="0.6"><stop offset="0.85" stop-color="#8cbd3c"/><stop offset="1" stop-color="#a7cf62"/></radialGradient></defs><rect x="76" y="1110" width="73.5" height="73" fill="#fafafa"/><circle cx="113.3" cy="1134.6" r="23" fill="url(#gc)"/><rect x="552" y="1172" width="302" height="6" fill="url(#gl)"/><polygon points="159.8,1109.8 507.6,1109.8 554.5,1179.4 159.8,1179.4" fill="#8b8b8b"/><rect x="553" y="1177.6" width="301" height="1.6" fill="#a9a9a9"/><rect x="853.5" y="1175" width="161.5" height="8.2" fill="#c9101c"/><rect x="838.8" y="1120.4" width="1" height="40" fill="#cfcfcf"/><g fill="#25281a"><circle cx="97" cy="1124.6" r="1.1"/><circle cx="95.6" cy="1122.4" r="0.8"/><circle cx="97.6" cy="1121.6" r="0.8"/><circle cx="99.6" cy="1122.2" r="0.8"/></g><g fill="#c9101c"><circle cx="879" cy="1135" r="1.65"/><circle cx="882.2" cy="1134.3" r="1.65"/><circle cx="885.4" cy="1135" r="1.65"/><circle cx="874.2" cy="1139.4" r="1.65"/><circle cx="873.8" cy="1142.8" r="1.65"/><circle cx="874.4" cy="1146.1" r="1.65"/><path d="M877.8 1140.4 Q877.8 1137.8 880.4 1137.8 L886 1137.8 Q889.8 1137.8 889.8 1141.4 Q889.8 1145 886 1145.2 L885.2 1145.2 L885.2 1147 Q885.2 1149.8 882.4 1149.8 L880.4 1149.8 Q877.8 1149.8 877.8 1147.2 Z"/></g></svg>
<svg class="a" style="left:96px;top:1120px" width="36" height="32" viewBox="96 1120 36 32"><g fill="#25281a" fill-rule="evenodd"><path d="M98.3 1123.9 H104 C110 1123.9 112.2 1129 112.2 1136.6 C112.2 1144.4 110 1149.4 104 1149.4 H98.3 Z M102.9 1127.7 V1145.6 H104 C106.8 1145.6 107.5 1142 107.5 1136.6 C107.5 1131.2 106.8 1127.7 104 1127.7 Z"/><path d="M114.4 1123.9 H121 C126.5 1123.9 128.6 1126.5 128.6 1130.8 C128.6 1134.3 127 1136.3 124.9 1137.2 L129.6 1149.4 H124.8 L120.6 1138.2 H118.9 V1149.4 H114.4 Z M118.9 1127.6 V1134.6 H120.6 C123 1134.6 124 1133.4 124 1131 C124 1128.7 123 1127.6 120.6 1127.6 Z"/></g><g fill="#fff"><path d="M104.5 1135.5 L106 1131.5 L108.5 1129.5 L110.5 1130 L112.5 1131 L112 1133.5 L110 1134 L108 1136 L106 1137 Z"/><path d="M119.5 1133.5 L120 1130 L121.5 1127.5 L123.5 1128.5 L125 1130.5 L125 1134 L123 1135.5 L121 1135.5 Z"/></g></svg>
<div class="t" style="top:1157.82px;font-size:21.00px;color:#8cc043;font-weight:700;left:95.00px;transform:scaleX(0.6927);transform-origin:0 0;-webkit-text-stroke:0.5px #8cc043;">Paws</div>
<div class="t" style="top:1121.24px;font-size:15.90px;color:#e2e2e2;left:177.60px;transform:scaleX(0.9817);transform-origin:0 0;">Dr Paws Hospital</div>
<div class="t" style="top:1138.94px;font-size:15.90px;color:#e2e2e2;left:177.60px;transform:scaleX(0.9837);transform-origin:0 0;">Banafseg 9 el farouk mall 1st settelment</div>
<div class="t" style="top:1155.84px;font-size:15.90px;color:#e2e2e2;left:177.60px;">201117873666 / 201008886446</div>
<div class="t" style="top:1123.59px;font-size:12.30px;color:#bf1f2b;font-weight:700;left:480.53px;transform:scaleX(0.8685);transform-origin:100% 0;">Global Pioneer of Comprehensive Animal Medical Solutions</div>
<div class="t" style="top:1145.43px;font-size:10.60px;color:#8e8e8e;font-weight:700;left:641.47px;transform:scaleX(0.9229);transform-origin:100% 0;">Better healthcare for all  -  Since 1991</div>
<div class="t" style="top:1121.33px;font-size:20.40px;color:#c9101c;font-weight:700;left:903.20px;transform:scaleX(1.1278);transform-origin:0 0;-webkit-text-stroke:0.4px #c9101c;">mindray</div>
<div class="t" style="top:1141.69px;font-size:18.80px;color:#8b8b8b;left:886.40px;transform:scaleX(1.0401);transform-origin:0 0;">animal</div>
<div class="t" style="top:1141.69px;font-size:18.80px;color:#8b8b8b;left:947.30px;transform:scaleX(0.9570);transform-origin:0 0;">care</div>
<!-- head2 -->
<div class="t" style="top:1374.69px;font-size:38.40px;color:#000;left:63.50px;transform:scaleX(0.9794);transform-origin:0 0;">Hematology Analysis Report</div>
<div class="t" style="top:1433.80px;font-size:14.30px;color:#000;left:65.40px;transform:scaleX(0.9549);transform-origin:0 0;">Patient:</div>
<div class="t" style="top:1462.90px;font-size:14.30px;color:#000;left:65.40px;transform:scaleX(0.9533);transform-origin:0 0;">Client:</div>
<div class="t" style="top:1491.80px;font-size:14.30px;color:#000;left:65.40px;transform:scaleX(0.9744);transform-origin:0 0;">Doctor:</div>
<div class="t" style="top:1433.80px;font-size:14.30px;color:#000;left:160.40px;transform:scaleX(0.9397);transform-origin:0 0;">Charlie</div>
<div class="t" style="top:1462.90px;font-size:14.30px;color:#000;left:160.40px;transform:scaleX(0.9641);transform-origin:0 0;">Diana Atef</div>
<div class="t" style="top:1491.80px;font-size:14.30px;color:#000;left:160.40px;transform:scaleX(0.8956);transform-origin:0 0;">Nadia Essam</div>
<div class="t" style="top:1433.80px;font-size:14.30px;color:#000;left:445.30px;transform:scaleX(0.8908);transform-origin:0 0;">Species:</div>
<div class="t" style="top:1462.90px;font-size:14.30px;color:#000;left:445.30px;transform:scaleX(0.9320);transform-origin:0 0;">Gender:</div>
<div class="t" style="top:1491.80px;font-size:14.30px;color:#000;left:445.30px;transform:scaleX(0.9363);transform-origin:0 0;">Age:</div>
<div class="t" style="top:1433.80px;font-size:14.30px;color:#000;left:540.40px;transform:scaleX(0.9368);transform-origin:0 0;">Canine</div>
<div class="t" style="top:1462.90px;font-size:14.30px;color:#000;left:540.40px;transform:scaleX(0.9561);transform-origin:0 0;">Male</div>
<div class="t" style="top:1491.80px;font-size:14.30px;color:#000;left:540.40px;transform:scaleX(0.9193);transform-origin:0 0;">13Years</div>
<div class="t" style="top:1433.80px;font-size:14.30px;color:#000;left:682.00px;transform:scaleX(0.9361);transform-origin:0 0;">Patient ID:</div>
<div class="t" style="top:1462.90px;font-size:14.30px;color:#000;left:682.00px;transform:scaleX(0.9156);transform-origin:0 0;">Sample No.:</div>
<div class="t" style="top:1491.80px;font-size:14.30px;color:#000;left:682.00px;transform:scaleX(0.9250);transform-origin:0 0;">Time of analysis:</div>
<div class="t" style="top:1433.80px;font-size:14.30px;color:#000;left:825.00px;transform:scaleX(0.9447);transform-origin:0 0;">7381</div>
<div class="t" style="top:1462.90px;font-size:14.30px;color:#000;left:825.00px;transform:scaleX(0.9447);transform-origin:0 0;">7381</div>
<div class="t" style="top:1491.80px;font-size:14.30px;color:#000;left:825.00px;transform:scaleX(0.9574);transform-origin:0 0;">2024/11/03 17:45</div>
<svg class="a" style="left:930px;top:1330px" width="75" height="84" viewBox="930 1330 75 84" fill="none" stroke="#1a1a1a" stroke-width="1.1" stroke-linejoin="round" stroke-linecap="round"><path d="M936.3 1341.8 Q936 1340.6 937.4 1340.2 L955 1336.6 L997.5 1337 Q999.2 1337.2 999.2 1338.8 L998.4 1393 L987 1407.4 L958.6 1404.6 L957 1406.2 L936.6 1405.4 Q934.8 1405 935 1403.2 Z" fill="#fff"/><path d="M937.4 1340.2 L981.5 1340.6 Q986.4 1340.8 986.6 1345 L987 1407.4"/><path d="M986.6 1344 L999 1338.4"/><path d="M935.6 1373 L983.6 1375.6 L983.4 1380.2 L961 1380.8 L958.6 1404.6"/><path d="M961 1383.2 L983.2 1382.4"/><path d="M970 1383 L970.2 1399 Q970.4 1402.6 974 1402.6 Q977.6 1402.6 977.8 1399 L978 1382.6"/><g stroke="#555" stroke-width="0.7"><path d="M939.4 1344.4 L972 1345.2 L971 1373 L938 1371.4 Z"/><path d="M940 1348.4 L971.6 1349.4 M957.4 1349 L956.4 1371.8 M963.6 1349.2 L963 1372.2 M957 1355 L971.2 1355.4 M957 1361.4 L971 1361.8 M938.4 1368.6 L971 1370 M940 1351.8 L957 1352.4"/><path d="M974 1346.8 L982.6 1347 M971 1372.4 L980.6 1372.8" stroke-width="1.2"/></g></svg>
<!-- charts -->
<div class="t" style="top:1537.99px;font-size:13.60px;color:#f2f2f2;left:238.01px;transform:scaleX(0.9582);transform-origin:50% 0;">WBC Scattergram</div>
<div class="t" style="top:1537.99px;font-size:13.60px;color:#f2f2f2;left:719.26px;transform:scaleX(0.9643);transform-origin:50% 0;">WBC Histogram</div>
<div class="t" style="top:1863.09px;font-size:13.60px;color:#f2f2f2;left:245.57px;transform:scaleX(0.9422);transform-origin:50% 0;">RBC Histogram</div>
<div class="t" style="top:1863.09px;font-size:13.60px;color:#f2f2f2;left:723.28px;transform:scaleX(0.9616);transform-origin:50% 0;">PLT Histogram</div>
<div class="t" style="top:1576.10px;font-size:14.30px;color:#000;left:409.30px;transform:scaleX(0.9887);transform-origin:0 0;">Lymphocyte</div>
<div class="t" style="top:1601.30px;font-size:14.30px;color:#000;left:409.30px;transform:scaleX(0.9889);transform-origin:0 0;">Monocyte</div>
<div class="t" style="top:1626.80px;font-size:14.30px;color:#000;left:409.30px;transform:scaleX(1.0081);transform-origin:0 0;">Neutrophil</div>
<div class="t" style="top:1652.70px;font-size:14.30px;color:#000;left:409.30px;transform:scaleX(0.9647);transform-origin:0 0;">Eosinophil</div>
<div class="t" style="top:1677.90px;font-size:14.30px;color:#000;left:409.30px;transform:scaleX(0.9473);transform-origin:0 0;">Basophil</div>
<svg class="a" style="left:70px;top:1595px" width="290" height="230" viewBox="70 1595 290 230">
<polygon points="132.8,1701.9 139.3,1688.9 148.3,1679.8 162.6,1674.6 173.0,1672.7 183.3,1674.6 189.8,1682.4 196.3,1691.5 198.9,1698.0 193.7,1704.4 183.3,1710.9 167.8,1718.7 154.8,1725.2 147.0,1727.8 141.9,1720.0 134.7,1712.2" fill="#04e9ea"/>
<polygon points="122.4,1725.2 128.9,1720.7 139.3,1721.3 145.7,1729.1 148.3,1734.3 141.9,1739.4 132.8,1748.5 126.3,1757.6 121.8,1760.2 120.5,1751.1 121.1,1739.4 123.1,1730.4" fill="#0b8f10"/>
<polygon points="96.5,1801.0 98.4,1786.1 103.0,1774.4 104.9,1762.8 109.4,1752.4 114.6,1745.9 117.9,1751.1 117.9,1761.5 122.4,1766.7 125.0,1774.4 121.1,1779.6 122.4,1787.4 127.6,1795.2 128.9,1801.0" fill="#01018c"/>
<path d="M180.34 1675.60h1.6v1.6h-1.6zM137.74 1689.80h1.6v1.6h-1.6zM137.74 1692.64h1.6v1.6h-1.6zM193.12 1686.96h1.6v1.6h-1.6zM191.70 1685.54h1.6v1.6h-1.6zM159.04 1672.76h1.6v1.6h-1.6zM186.02 1709.68h1.6v1.6h-1.6zM137.74 1694.06h1.6v1.6h-1.6zM149.10 1681.28h1.6v1.6h-1.6zM150.52 1728.14h1.6v1.6h-1.6zM178.92 1713.94h1.6v1.6h-1.6zM139.16 1691.22h1.6v1.6h-1.6zM171.82 1716.78h1.6v1.6h-1.6zM187.44 1708.26h1.6v1.6h-1.6zM153.36 1725.30h1.6v1.6h-1.6zM187.44 1706.84h1.6v1.6h-1.6zM163.30 1723.88h1.6v1.6h-1.6zM142.00 1685.54h1.6v1.6h-1.6zM149.10 1679.86h1.6v1.6h-1.6zM174.66 1713.94h1.6v1.6h-1.6zM142.00 1722.46h1.6v1.6h-1.6zM184.60 1708.26h1.6v1.6h-1.6zM147.68 1726.72h1.6v1.6h-1.6zM177.50 1715.36h1.6v1.6h-1.6zM180.34 1713.94h1.6v1.6h-1.6zM170.40 1674.18h1.6v1.6h-1.6zM133.48 1698.32h1.6v1.6h-1.6zM146.26 1684.12h1.6v1.6h-1.6zM146.26 1684.12h1.6v1.6h-1.6zM144.84 1722.46h1.6v1.6h-1.6zM194.54 1702.58h1.6v1.6h-1.6zM143.42 1723.88h1.6v1.6h-1.6zM187.44 1674.18h1.6v1.6h-1.6zM149.10 1679.86h1.6v1.6h-1.6zM161.88 1674.18h1.6v1.6h-1.6zM168.98 1674.18h1.6v1.6h-1.6zM183.18 1677.02h1.6v1.6h-1.6zM168.98 1716.78h1.6v1.6h-1.6zM176.08 1716.78h1.6v1.6h-1.6zM157.62 1722.46h1.6v1.6h-1.6zM187.44 1681.28h1.6v1.6h-1.6zM180.34 1712.52h1.6v1.6h-1.6zM159.04 1677.02h1.6v1.6h-1.6zM137.74 1692.64h1.6v1.6h-1.6zM142.00 1685.54h1.6v1.6h-1.6zM142.00 1721.04h1.6v1.6h-1.6zM166.14 1675.60h1.6v1.6h-1.6zM147.68 1679.86h1.6v1.6h-1.6zM195.96 1691.22h1.6v1.6h-1.6zM142.00 1686.96h1.6v1.6h-1.6zM147.68 1728.14h1.6v1.6h-1.6zM133.48 1711.10h1.6v1.6h-1.6zM195.96 1704.00h1.6v1.6h-1.6zM134.90 1704.00h1.6v1.6h-1.6zM167.56 1674.18h1.6v1.6h-1.6zM156.20 1723.88h1.6v1.6h-1.6zM180.34 1675.60h1.6v1.6h-1.6zM134.90 1702.58h1.6v1.6h-1.6zM149.10 1726.72h1.6v1.6h-1.6zM197.38 1699.74h1.6v1.6h-1.6zM134.90 1698.32h1.6v1.6h-1.6zM171.82 1716.78h1.6v1.6h-1.6zM137.74 1712.52h1.6v1.6h-1.6zM186.02 1678.44h1.6v1.6h-1.6zM157.62 1678.44h1.6v1.6h-1.6zM140.58 1716.78h1.6v1.6h-1.6zM177.50 1713.94h1.6v1.6h-1.6zM177.50 1713.94h1.6v1.6h-1.6zM160.46 1722.46h1.6v1.6h-1.6zM153.36 1726.72h1.6v1.6h-1.6zM133.48 1708.26h1.6v1.6h-1.6zM134.90 1711.10h1.6v1.6h-1.6zM146.26 1684.12h1.6v1.6h-1.6zM153.36 1728.14h1.6v1.6h-1.6zM133.48 1704.00h1.6v1.6h-1.6zM193.12 1704.00h1.6v1.6h-1.6zM133.48 1705.42h1.6v1.6h-1.6zM133.48 1713.94h1.6v1.6h-1.6zM149.10 1728.14h1.6v1.6h-1.6zM173.24 1674.18h1.6v1.6h-1.6zM167.56 1674.18h1.6v1.6h-1.6zM137.74 1718.20h1.6v1.6h-1.6zM188.86 1706.84h1.6v1.6h-1.6zM136.32 1715.36h1.6v1.6h-1.6zM197.38 1701.16h1.6v1.6h-1.6zM156.20 1678.44h1.6v1.6h-1.6zM150.52 1678.44h1.6v1.6h-1.6zM191.70 1706.84h1.6v1.6h-1.6zM193.12 1704.00h1.6v1.6h-1.6zM191.70 1706.84h1.6v1.6h-1.6zM156.20 1723.88h1.6v1.6h-1.6zM160.46 1722.46h1.6v1.6h-1.6zM181.76 1711.10h1.6v1.6h-1.6zM168.98 1718.20h1.6v1.6h-1.6zM198.80 1692.64h1.6v1.6h-1.6zM143.42 1721.04h1.6v1.6h-1.6zM194.54 1705.42h1.6v1.6h-1.6zM147.68 1682.70h1.6v1.6h-1.6zM139.16 1689.80h1.6v1.6h-1.6zM174.66 1712.52h1.6v1.6h-1.6zM149.10 1678.44h1.6v1.6h-1.6zM150.52 1678.44h1.6v1.6h-1.6zM161.88 1675.60h1.6v1.6h-1.6zM200.22 1695.48h1.6v1.6h-1.6zM149.10 1679.86h1.6v1.6h-1.6zM181.76 1675.60h1.6v1.6h-1.6zM167.56 1719.62h1.6v1.6h-1.6zM194.54 1688.38h1.6v1.6h-1.6zM181.76 1711.10h1.6v1.6h-1.6zM133.48 1701.16h1.6v1.6h-1.6zM142.00 1685.54h1.6v1.6h-1.6zM156.20 1725.30h1.6v1.6h-1.6zM193.12 1684.12h1.6v1.6h-1.6zM168.98 1675.60h1.6v1.6h-1.6zM190.28 1706.84h1.6v1.6h-1.6zM136.32 1691.22h1.6v1.6h-1.6zM140.58 1689.80h1.6v1.6h-1.6zM154.78 1726.72h1.6v1.6h-1.6zM139.16 1689.80h1.6v1.6h-1.6zM178.92 1672.76h1.6v1.6h-1.6zM170.40 1674.18h1.6v1.6h-1.6zM164.72 1674.18h1.6v1.6h-1.6zM137.74 1694.06h1.6v1.6h-1.6zM176.08 1672.76h1.6v1.6h-1.6zM198.80 1698.32h1.6v1.6h-1.6zM134.90 1699.74h1.6v1.6h-1.6zM163.30 1721.04h1.6v1.6h-1.6zM197.38 1692.64h1.6v1.6h-1.6zM147.68 1728.14h1.6v1.6h-1.6zM146.26 1728.14h1.6v1.6h-1.6zM171.82 1716.78h1.6v1.6h-1.6zM146.26 1726.72h1.6v1.6h-1.6zM190.28 1682.70h1.6v1.6h-1.6zM147.68 1682.70h1.6v1.6h-1.6zM167.56 1674.18h1.6v1.6h-1.6zM147.68 1725.30h1.6v1.6h-1.6zM171.82 1674.18h1.6v1.6h-1.6zM195.96 1691.22h1.6v1.6h-1.6zM171.82 1672.76h1.6v1.6h-1.6zM194.54 1706.84h1.6v1.6h-1.6zM176.08 1672.76h1.6v1.6h-1.6zM186.02 1679.86h1.6v1.6h-1.6zM157.62 1677.02h1.6v1.6h-1.6zM168.98 1674.18h1.6v1.6h-1.6zM137.74 1695.48h1.6v1.6h-1.6zM161.88 1674.18h1.6v1.6h-1.6zM160.46 1721.04h1.6v1.6h-1.6zM142.00 1721.04h1.6v1.6h-1.6zM134.90 1706.84h1.6v1.6h-1.6zM180.34 1713.94h1.6v1.6h-1.6zM139.16 1718.20h1.6v1.6h-1.6zM151.94 1728.14h1.6v1.6h-1.6zM200.22 1696.90h1.6v1.6h-1.6zM146.26 1726.72h1.6v1.6h-1.6zM171.82 1715.36h1.6v1.6h-1.6zM136.32 1696.90h1.6v1.6h-1.6zM143.42 1684.12h1.6v1.6h-1.6zM180.34 1711.10h1.6v1.6h-1.6zM200.22 1695.48h1.6v1.6h-1.6zM160.46 1722.46h1.6v1.6h-1.6zM177.50 1715.36h1.6v1.6h-1.6zM167.56 1674.18h1.6v1.6h-1.6zM164.72 1722.46h1.6v1.6h-1.6zM132.06 1706.84h1.6v1.6h-1.6zM195.96 1692.64h1.6v1.6h-1.6zM183.18 1711.10h1.6v1.6h-1.6zM147.68 1682.70h1.6v1.6h-1.6zM176.08 1672.76h1.6v1.6h-1.6zM137.74 1694.06h1.6v1.6h-1.6zM170.40 1716.78h1.6v1.6h-1.6zM195.96 1699.74h1.6v1.6h-1.6zM144.84 1682.70h1.6v1.6h-1.6zM133.48 1705.42h1.6v1.6h-1.6zM197.38 1688.38h1.6v1.6h-1.6zM194.54 1689.80h1.6v1.6h-1.6zM134.90 1712.52h1.6v1.6h-1.6zM144.84 1679.86h1.6v1.6h-1.6zM146.26 1681.28h1.6v1.6h-1.6zM142.00 1718.20h1.6v1.6h-1.6zM140.58 1718.20h1.6v1.6h-1.6zM132.06 1701.16h1.6v1.6h-1.6zM176.08 1674.18h1.6v1.6h-1.6zM177.50 1674.18h1.6v1.6h-1.6zM161.88 1721.04h1.6v1.6h-1.6zM136.32 1712.52h1.6v1.6h-1.6zM171.82 1674.18h1.6v1.6h-1.6zM132.06 1701.16h1.6v1.6h-1.6zM193.12 1686.96h1.6v1.6h-1.6zM142.00 1685.54h1.6v1.6h-1.6zM134.90 1713.94h1.6v1.6h-1.6zM198.80 1699.74h1.6v1.6h-1.6zM136.32 1708.26h1.6v1.6h-1.6zM183.18 1711.10h1.6v1.6h-1.6zM193.12 1704.00h1.6v1.6h-1.6zM161.88 1721.04h1.6v1.6h-1.6zM178.92 1713.94h1.6v1.6h-1.6zM137.74 1715.36h1.6v1.6h-1.6zM181.76 1677.02h1.6v1.6h-1.6zM133.48 1708.26h1.6v1.6h-1.6zM173.24 1672.76h1.6v1.6h-1.6zM151.94 1679.86h1.6v1.6h-1.6zM137.74 1716.78h1.6v1.6h-1.6zM140.58 1716.78h1.6v1.6h-1.6zM147.68 1681.28h1.6v1.6h-1.6zM183.18 1675.60h1.6v1.6h-1.6zM164.72 1672.76h1.6v1.6h-1.6zM160.46 1722.46h1.6v1.6h-1.6zM195.96 1701.16h1.6v1.6h-1.6zM137.74 1695.48h1.6v1.6h-1.6zM143.42 1682.70h1.6v1.6h-1.6zM144.84 1723.88h1.6v1.6h-1.6zM164.72 1674.18h1.6v1.6h-1.6zM136.32 1708.26h1.6v1.6h-1.6zM136.32 1698.32h1.6v1.6h-1.6zM139.16 1718.20h1.6v1.6h-1.6zM130.64 1704.00h1.6v1.6h-1.6zM150.52 1725.30h1.6v1.6h-1.6zM166.14 1674.18h1.6v1.6h-1.6zM195.96 1698.32h1.6v1.6h-1.6zM164.72 1718.20h1.6v1.6h-1.6zM195.96 1689.80h1.6v1.6h-1.6zM156.20 1726.72h1.6v1.6h-1.6zM177.50 1713.94h1.6v1.6h-1.6zM164.72 1672.76h1.6v1.6h-1.6zM144.84 1685.54h1.6v1.6h-1.6zM187.44 1708.26h1.6v1.6h-1.6zM186.02 1709.68h1.6v1.6h-1.6zM197.38 1691.22h1.6v1.6h-1.6zM140.58 1719.62h1.6v1.6h-1.6zM167.56 1674.18h1.6v1.6h-1.6zM177.50 1672.76h1.6v1.6h-1.6zM173.24 1716.78h1.6v1.6h-1.6zM176.08 1715.36h1.6v1.6h-1.6zM134.90 1696.90h1.6v1.6h-1.6zM173.24 1718.20h1.6v1.6h-1.6zM161.88 1721.04h1.6v1.6h-1.6zM133.48 1709.68h1.6v1.6h-1.6zM163.30 1677.02h1.6v1.6h-1.6zM174.66 1672.76h1.6v1.6h-1.6zM154.78 1678.44h1.6v1.6h-1.6zM176.08 1715.36h1.6v1.6h-1.6zM188.86 1684.12h1.6v1.6h-1.6zM147.68 1681.28h1.6v1.6h-1.6zM190.28 1679.86h1.6v1.6h-1.6zM166.14 1721.04h1.6v1.6h-1.6zM181.76 1677.02h1.6v1.6h-1.6zM163.30 1722.46h1.6v1.6h-1.6zM186.02 1679.86h1.6v1.6h-1.6zM153.36 1678.44h1.6v1.6h-1.6zM184.60 1675.60h1.6v1.6h-1.6zM134.90 1709.68h1.6v1.6h-1.6zM149.10 1725.30h1.6v1.6h-1.6zM136.32 1694.06h1.6v1.6h-1.6zM137.74 1716.78h1.6v1.6h-1.6zM142.00 1718.20h1.6v1.6h-1.6zM150.52 1726.72h1.6v1.6h-1.6zM137.74 1696.90h1.6v1.6h-1.6zM167.56 1671.34h1.6v1.6h-1.6zM181.76 1677.02h1.6v1.6h-1.6zM183.18 1712.52h1.6v1.6h-1.6z" fill="#024a4c"/>
<path d="M177.50 1674.18h1.6v1.6h-1.6zM163.30 1721.04h1.6v1.6h-1.6zM136.32 1712.52h1.6v1.6h-1.6zM204.48 1691.22h1.6v1.6h-1.6zM187.44 1682.70h1.6v1.6h-1.6zM200.22 1695.48h1.6v1.6h-1.6zM151.94 1721.04h1.6v1.6h-1.6zM154.78 1722.46h1.6v1.6h-1.6zM174.66 1677.02h1.6v1.6h-1.6zM140.58 1694.06h1.6v1.6h-1.6zM166.14 1674.18h1.6v1.6h-1.6zM188.86 1712.52h1.6v1.6h-1.6zM144.84 1719.62h1.6v1.6h-1.6zM143.42 1689.80h1.6v1.6h-1.6zM166.14 1719.62h1.6v1.6h-1.6zM187.44 1681.28h1.6v1.6h-1.6zM164.72 1718.20h1.6v1.6h-1.6zM146.26 1681.28h1.6v1.6h-1.6zM187.44 1709.68h1.6v1.6h-1.6zM157.62 1678.44h1.6v1.6h-1.6zM151.94 1677.02h1.6v1.6h-1.6zM171.82 1679.86h1.6v1.6h-1.6zM198.80 1704.00h1.6v1.6h-1.6zM178.92 1713.94h1.6v1.6h-1.6zM198.80 1688.38h1.6v1.6h-1.6zM140.58 1716.78h1.6v1.6h-1.6zM147.68 1691.22h1.6v1.6h-1.6zM190.28 1706.84h1.6v1.6h-1.6zM142.00 1723.88h1.6v1.6h-1.6zM157.62 1723.88h1.6v1.6h-1.6zM184.60 1708.26h1.6v1.6h-1.6zM187.44 1679.86h1.6v1.6h-1.6zM163.30 1671.34h1.6v1.6h-1.6zM160.46 1677.02h1.6v1.6h-1.6zM173.24 1718.20h1.6v1.6h-1.6zM159.04 1672.76h1.6v1.6h-1.6zM140.58 1692.64h1.6v1.6h-1.6zM193.12 1704.00h1.6v1.6h-1.6zM149.10 1675.60h1.6v1.6h-1.6zM168.98 1679.86h1.6v1.6h-1.6zM174.66 1672.76h1.6v1.6h-1.6zM197.38 1677.02h1.6v1.6h-1.6zM187.44 1681.28h1.6v1.6h-1.6zM164.72 1677.02h1.6v1.6h-1.6zM193.12 1682.70h1.6v1.6h-1.6zM140.58 1721.04h1.6v1.6h-1.6zM129.22 1698.32h1.6v1.6h-1.6zM142.00 1718.20h1.6v1.6h-1.6zM184.60 1678.44h1.6v1.6h-1.6zM164.72 1671.34h1.6v1.6h-1.6zM137.74 1685.54h1.6v1.6h-1.6zM134.90 1709.68h1.6v1.6h-1.6zM137.74 1711.10h1.6v1.6h-1.6zM139.16 1691.22h1.6v1.6h-1.6zM134.90 1713.94h1.6v1.6h-1.6zM150.52 1677.02h1.6v1.6h-1.6zM193.12 1678.44h1.6v1.6h-1.6zM154.78 1681.28h1.6v1.6h-1.6zM195.96 1701.16h1.6v1.6h-1.6zM164.72 1668.50h1.6v1.6h-1.6zM132.06 1692.64h1.6v1.6h-1.6zM136.32 1694.06h1.6v1.6h-1.6zM181.76 1708.26h1.6v1.6h-1.6zM171.82 1675.60h1.6v1.6h-1.6zM190.28 1682.70h1.6v1.6h-1.6zM197.38 1688.38h1.6v1.6h-1.6zM198.80 1701.16h1.6v1.6h-1.6zM154.78 1725.30h1.6v1.6h-1.6zM198.80 1694.06h1.6v1.6h-1.6zM195.96 1688.38h1.6v1.6h-1.6zM201.64 1699.74h1.6v1.6h-1.6zM139.16 1682.70h1.6v1.6h-1.6zM201.64 1701.16h1.6v1.6h-1.6zM188.86 1678.44h1.6v1.6h-1.6zM149.10 1723.88h1.6v1.6h-1.6zM153.36 1735.24h1.6v1.6h-1.6zM204.48 1694.06h1.6v1.6h-1.6zM153.36 1672.76h1.6v1.6h-1.6zM134.90 1695.48h1.6v1.6h-1.6zM151.94 1678.44h1.6v1.6h-1.6zM151.94 1729.56h1.6v1.6h-1.6zM137.74 1718.20h1.6v1.6h-1.6zM198.80 1699.74h1.6v1.6h-1.6zM157.62 1684.12h1.6v1.6h-1.6zM174.66 1715.36h1.6v1.6h-1.6zM157.62 1726.72h1.6v1.6h-1.6zM176.08 1716.78h1.6v1.6h-1.6zM187.44 1702.58h1.6v1.6h-1.6zM146.26 1685.54h1.6v1.6h-1.6zM188.86 1678.44h1.6v1.6h-1.6zM130.64 1702.58h1.6v1.6h-1.6zM157.62 1723.88h1.6v1.6h-1.6zM167.56 1722.46h1.6v1.6h-1.6zM160.46 1667.08h1.6v1.6h-1.6zM186.02 1705.42h1.6v1.6h-1.6zM134.90 1702.58h1.6v1.6h-1.6zM180.34 1712.52h1.6v1.6h-1.6zM142.00 1719.62h1.6v1.6h-1.6zM177.50 1713.94h1.6v1.6h-1.6zM186.02 1677.02h1.6v1.6h-1.6zM157.62 1672.76h1.6v1.6h-1.6zM154.78 1674.18h1.6v1.6h-1.6zM149.10 1681.28h1.6v1.6h-1.6zM151.94 1682.70h1.6v1.6h-1.6zM143.42 1719.62h1.6v1.6h-1.6zM173.24 1674.18h1.6v1.6h-1.6zM188.86 1709.68h1.6v1.6h-1.6zM198.80 1686.96h1.6v1.6h-1.6zM166.14 1674.18h1.6v1.6h-1.6zM193.12 1704.00h1.6v1.6h-1.6z" fill="#0a4446"/>
<path d="M163.30 1721.04h1.6v1.6h-1.6zM134.90 1709.68h1.6v1.6h-1.6zM151.94 1723.88h1.6v1.6h-1.6zM133.48 1702.58h1.6v1.6h-1.6zM146.26 1726.72h1.6v1.6h-1.6zM142.00 1682.70h1.6v1.6h-1.6zM168.98 1716.78h1.6v1.6h-1.6zM137.74 1713.94h1.6v1.6h-1.6zM151.94 1726.72h1.6v1.6h-1.6zM163.30 1722.46h1.6v1.6h-1.6zM136.32 1696.90h1.6v1.6h-1.6zM146.26 1726.72h1.6v1.6h-1.6zM136.32 1692.64h1.6v1.6h-1.6zM134.90 1702.58h1.6v1.6h-1.6zM143.42 1686.96h1.6v1.6h-1.6zM150.52 1722.46h1.6v1.6h-1.6zM133.48 1699.74h1.6v1.6h-1.6zM144.84 1729.56h1.6v1.6h-1.6zM132.06 1701.16h1.6v1.6h-1.6zM143.42 1681.28h1.6v1.6h-1.6zM134.90 1696.90h1.6v1.6h-1.6zM133.48 1696.90h1.6v1.6h-1.6zM151.94 1725.30h1.6v1.6h-1.6zM143.42 1685.54h1.6v1.6h-1.6zM161.88 1722.46h1.6v1.6h-1.6zM157.62 1723.88h1.6v1.6h-1.6zM132.06 1696.90h1.6v1.6h-1.6zM137.74 1696.90h1.6v1.6h-1.6zM144.84 1719.62h1.6v1.6h-1.6zM146.26 1686.96h1.6v1.6h-1.6zM144.84 1684.12h1.6v1.6h-1.6zM153.36 1726.72h1.6v1.6h-1.6zM140.58 1685.54h1.6v1.6h-1.6zM137.74 1688.38h1.6v1.6h-1.6zM163.30 1723.88h1.6v1.6h-1.6zM151.94 1728.14h1.6v1.6h-1.6zM166.14 1721.04h1.6v1.6h-1.6zM133.48 1699.74h1.6v1.6h-1.6zM142.00 1681.28h1.6v1.6h-1.6zM134.90 1705.42h1.6v1.6h-1.6zM140.58 1715.36h1.6v1.6h-1.6zM133.48 1698.32h1.6v1.6h-1.6zM143.42 1689.80h1.6v1.6h-1.6zM156.20 1725.30h1.6v1.6h-1.6zM136.32 1694.06h1.6v1.6h-1.6zM133.48 1715.36h1.6v1.6h-1.6zM151.94 1725.30h1.6v1.6h-1.6zM139.16 1694.06h1.6v1.6h-1.6zM147.68 1730.98h1.6v1.6h-1.6zM139.16 1715.36h1.6v1.6h-1.6zM163.30 1718.20h1.6v1.6h-1.6zM136.32 1691.22h1.6v1.6h-1.6zM137.74 1722.46h1.6v1.6h-1.6zM161.88 1721.04h1.6v1.6h-1.6zM151.94 1729.56h1.6v1.6h-1.6zM133.48 1716.78h1.6v1.6h-1.6zM147.68 1726.72h1.6v1.6h-1.6zM136.32 1692.64h1.6v1.6h-1.6zM143.42 1723.88h1.6v1.6h-1.6zM137.74 1685.54h1.6v1.6h-1.6zM151.94 1726.72h1.6v1.6h-1.6zM134.90 1709.68h1.6v1.6h-1.6zM142.00 1686.96h1.6v1.6h-1.6zM144.84 1722.46h1.6v1.6h-1.6zM157.62 1725.30h1.6v1.6h-1.6zM143.42 1725.30h1.6v1.6h-1.6zM147.68 1729.56h1.6v1.6h-1.6zM139.16 1699.74h1.6v1.6h-1.6zM156.20 1726.72h1.6v1.6h-1.6zM137.74 1689.80h1.6v1.6h-1.6zM153.36 1725.30h1.6v1.6h-1.6zM151.94 1726.72h1.6v1.6h-1.6zM142.00 1716.78h1.6v1.6h-1.6zM134.90 1712.52h1.6v1.6h-1.6zM156.20 1722.46h1.6v1.6h-1.6zM137.74 1695.48h1.6v1.6h-1.6zM133.48 1706.84h1.6v1.6h-1.6zM150.52 1722.46h1.6v1.6h-1.6zM136.32 1689.80h1.6v1.6h-1.6zM132.06 1698.32h1.6v1.6h-1.6zM144.84 1725.30h1.6v1.6h-1.6zM142.00 1715.36h1.6v1.6h-1.6zM133.48 1706.84h1.6v1.6h-1.6zM137.74 1715.36h1.6v1.6h-1.6zM134.90 1699.74h1.6v1.6h-1.6zM133.48 1699.74h1.6v1.6h-1.6zM137.74 1713.94h1.6v1.6h-1.6zM136.32 1713.94h1.6v1.6h-1.6zM143.42 1682.70h1.6v1.6h-1.6zM130.64 1708.26h1.6v1.6h-1.6zM133.48 1709.68h1.6v1.6h-1.6zM130.64 1715.36h1.6v1.6h-1.6zM151.94 1723.88h1.6v1.6h-1.6zM140.58 1698.32h1.6v1.6h-1.6zM144.84 1723.88h1.6v1.6h-1.6zM143.42 1719.62h1.6v1.6h-1.6zM140.58 1716.78h1.6v1.6h-1.6zM149.10 1730.98h1.6v1.6h-1.6zM143.42 1682.70h1.6v1.6h-1.6zM136.32 1692.64h1.6v1.6h-1.6zM159.04 1719.62h1.6v1.6h-1.6zM130.64 1704.00h1.6v1.6h-1.6zM153.36 1725.30h1.6v1.6h-1.6zM134.90 1699.74h1.6v1.6h-1.6zM137.74 1718.20h1.6v1.6h-1.6zM159.04 1721.04h1.6v1.6h-1.6zM139.16 1689.80h1.6v1.6h-1.6zM147.68 1728.14h1.6v1.6h-1.6zM167.56 1716.78h1.6v1.6h-1.6zM149.10 1729.56h1.6v1.6h-1.6z" fill="#053c3e"/>
<path d="M191.70 1685.54h1.6v1.6h-1.6zM187.44 1675.60h1.6v1.6h-1.6zM139.16 1691.22h1.6v1.6h-1.6zM156.20 1726.72h1.6v1.6h-1.6zM180.34 1712.52h1.6v1.6h-1.6zM133.48 1709.68h1.6v1.6h-1.6zM142.00 1686.96h1.6v1.6h-1.6zM156.20 1725.30h1.6v1.6h-1.6zM139.16 1716.78h1.6v1.6h-1.6zM139.16 1718.20h1.6v1.6h-1.6zM176.08 1713.94h1.6v1.6h-1.6zM147.68 1728.14h1.6v1.6h-1.6zM195.96 1701.16h1.6v1.6h-1.6zM142.00 1719.62h1.6v1.6h-1.6zM163.30 1675.60h1.6v1.6h-1.6zM136.32 1692.64h1.6v1.6h-1.6zM197.38 1695.48h1.6v1.6h-1.6zM146.26 1723.88h1.6v1.6h-1.6zM194.54 1691.22h1.6v1.6h-1.6zM146.26 1728.14h1.6v1.6h-1.6zM134.90 1709.68h1.6v1.6h-1.6zM181.76 1712.52h1.6v1.6h-1.6zM173.24 1716.78h1.6v1.6h-1.6zM132.06 1705.42h1.6v1.6h-1.6zM142.00 1718.20h1.6v1.6h-1.6zM180.34 1713.94h1.6v1.6h-1.6zM184.60 1677.02h1.6v1.6h-1.6zM157.62 1725.30h1.6v1.6h-1.6zM190.28 1684.12h1.6v1.6h-1.6zM174.66 1671.34h1.6v1.6h-1.6zM198.80 1699.74h1.6v1.6h-1.6zM132.06 1705.42h1.6v1.6h-1.6zM180.34 1674.18h1.6v1.6h-1.6zM186.02 1706.84h1.6v1.6h-1.6zM136.32 1692.64h1.6v1.6h-1.6zM194.54 1704.00h1.6v1.6h-1.6zM133.48 1702.58h1.6v1.6h-1.6zM183.18 1708.26h1.6v1.6h-1.6zM137.74 1715.36h1.6v1.6h-1.6zM180.34 1711.10h1.6v1.6h-1.6zM173.24 1718.20h1.6v1.6h-1.6zM195.96 1689.80h1.6v1.6h-1.6zM156.20 1678.44h1.6v1.6h-1.6zM137.74 1715.36h1.6v1.6h-1.6zM149.10 1725.30h1.6v1.6h-1.6zM167.56 1674.18h1.6v1.6h-1.6zM176.08 1674.18h1.6v1.6h-1.6zM136.32 1713.94h1.6v1.6h-1.6zM137.74 1696.90h1.6v1.6h-1.6zM190.28 1706.84h1.6v1.6h-1.6zM133.48 1699.74h1.6v1.6h-1.6zM136.32 1712.52h1.6v1.6h-1.6zM191.70 1684.12h1.6v1.6h-1.6zM159.04 1675.60h1.6v1.6h-1.6zM133.48 1701.16h1.6v1.6h-1.6zM136.32 1708.26h1.6v1.6h-1.6zM147.68 1682.70h1.6v1.6h-1.6zM164.72 1674.18h1.6v1.6h-1.6zM137.74 1692.64h1.6v1.6h-1.6zM144.84 1723.88h1.6v1.6h-1.6z" fill="#04e9ea"/>
<path d="M130.64 1705.42h1.6v1.6h-1.6zM127.80 1712.52h1.6v1.6h-1.6zM126.38 1713.94h1.6v1.6h-1.6zM132.06 1681.28h1.6v1.6h-1.6zM123.54 1702.58h1.6v1.6h-1.6zM132.06 1684.12h1.6v1.6h-1.6zM126.38 1705.42h1.6v1.6h-1.6zM124.96 1709.68h1.6v1.6h-1.6zM129.22 1682.70h1.6v1.6h-1.6zM127.80 1701.16h1.6v1.6h-1.6zM127.80 1704.00h1.6v1.6h-1.6zM124.96 1708.26h1.6v1.6h-1.6zM127.80 1702.58h1.6v1.6h-1.6zM130.64 1695.48h1.6v1.6h-1.6zM127.80 1708.26h1.6v1.6h-1.6zM133.48 1708.26h1.6v1.6h-1.6zM129.22 1691.22h1.6v1.6h-1.6zM123.54 1713.94h1.6v1.6h-1.6zM130.64 1709.68h1.6v1.6h-1.6zM126.38 1701.16h1.6v1.6h-1.6zM134.90 1709.68h1.6v1.6h-1.6zM130.64 1691.22h1.6v1.6h-1.6zM127.80 1711.10h1.6v1.6h-1.6zM127.80 1704.00h1.6v1.6h-1.6zM130.64 1711.10h1.6v1.6h-1.6zM132.06 1691.22h1.6v1.6h-1.6zM123.54 1689.80h1.6v1.6h-1.6zM127.80 1701.16h1.6v1.6h-1.6zM132.06 1711.10h1.6v1.6h-1.6zM123.54 1709.68h1.6v1.6h-1.6zM132.06 1709.68h1.6v1.6h-1.6zM129.22 1689.80h1.6v1.6h-1.6zM133.48 1708.26h1.6v1.6h-1.6zM130.64 1712.52h1.6v1.6h-1.6zM139.16 1669.92h1.6v1.6h-1.6zM143.42 1678.44h1.6v1.6h-1.6zM136.32 1678.44h1.6v1.6h-1.6zM149.10 1672.76h1.6v1.6h-1.6zM143.42 1677.02h1.6v1.6h-1.6zM140.58 1671.34h1.6v1.6h-1.6zM137.74 1678.44h1.6v1.6h-1.6zM147.68 1674.18h1.6v1.6h-1.6zM134.90 1678.44h1.6v1.6h-1.6zM146.26 1672.76h1.6v1.6h-1.6zM143.42 1679.86h1.6v1.6h-1.6zM149.10 1675.60h1.6v1.6h-1.6zM142.00 1677.02h1.6v1.6h-1.6zM136.32 1671.34h1.6v1.6h-1.6zM136.32 1677.02h1.6v1.6h-1.6zM139.16 1675.60h1.6v1.6h-1.6zM140.58 1675.60h1.6v1.6h-1.6zM134.90 1669.92h1.6v1.6h-1.6zM150.52 1674.18h1.6v1.6h-1.6zM134.90 1677.02h1.6v1.6h-1.6zM147.68 1671.34h1.6v1.6h-1.6zM143.42 1672.76h1.6v1.6h-1.6zM142.00 1669.92h1.6v1.6h-1.6zM133.48 1681.28h1.6v1.6h-1.6zM149.10 1675.60h1.6v1.6h-1.6zM143.42 1672.76h1.6v1.6h-1.6zM143.42 1713.94h1.6v1.6h-1.6zM146.26 1719.62h1.6v1.6h-1.6zM144.84 1722.46h1.6v1.6h-1.6zM136.32 1708.26h1.6v1.6h-1.6zM136.32 1709.68h1.6v1.6h-1.6zM133.48 1708.26h1.6v1.6h-1.6zM140.58 1721.04h1.6v1.6h-1.6zM139.16 1722.46h1.6v1.6h-1.6zM146.26 1708.26h1.6v1.6h-1.6zM142.00 1712.52h1.6v1.6h-1.6zM134.90 1722.46h1.6v1.6h-1.6zM136.32 1715.36h1.6v1.6h-1.6zM142.00 1722.46h1.6v1.6h-1.6zM142.00 1712.52h1.6v1.6h-1.6zM139.16 1709.68h1.6v1.6h-1.6zM146.26 1722.46h1.6v1.6h-1.6zM136.32 1708.26h1.6v1.6h-1.6zM136.32 1712.52h1.6v1.6h-1.6zM146.26 1721.04h1.6v1.6h-1.6zM144.84 1708.26h1.6v1.6h-1.6zM143.42 1718.20h1.6v1.6h-1.6zM142.00 1722.46h1.6v1.6h-1.6zM133.48 1709.68h1.6v1.6h-1.6zM143.42 1721.04h1.6v1.6h-1.6zM142.00 1711.10h1.6v1.6h-1.6zM140.58 1718.20h1.6v1.6h-1.6zM134.90 1712.52h1.6v1.6h-1.6zM136.32 1709.68h1.6v1.6h-1.6zM139.16 1709.68h1.6v1.6h-1.6zM136.32 1709.68h1.6v1.6h-1.6zM142.00 1706.84h1.6v1.6h-1.6zM143.42 1709.68h1.6v1.6h-1.6zM133.48 1721.04h1.6v1.6h-1.6zM136.32 1721.04h1.6v1.6h-1.6zM144.84 1721.04h1.6v1.6h-1.6zM134.90 1713.94h1.6v1.6h-1.6zM133.48 1721.04h1.6v1.6h-1.6zM144.84 1716.78h1.6v1.6h-1.6zM139.16 1712.52h1.6v1.6h-1.6zM144.84 1713.94h1.6v1.6h-1.6z" fill="#0b3f42"/>
<polygon points="143.8,1679.8 149.0,1677.9 150.9,1685.0 147.0,1688.9 144.4,1686.3" fill="#d312d8"/>
<path d="M137.74 1695.48h1.6v1.6h-1.6zM139.16 1701.16h1.6v1.6h-1.6zM146.26 1699.74h1.6v1.6h-1.6zM151.94 1701.16h1.6v1.6h-1.6zM150.52 1706.84h1.6v1.6h-1.6zM142.00 1692.64h1.6v1.6h-1.6zM136.32 1678.44h1.6v1.6h-1.6zM144.84 1671.34h1.6v1.6h-1.6zM147.68 1694.06h1.6v1.6h-1.6zM149.10 1691.22h1.6v1.6h-1.6z" fill="#c81ee0"/>
<path d="M147.68 1689.80h1.6v1.6h-1.6zM144.84 1678.44h1.6v1.6h-1.6zM147.68 1678.44h1.6v1.6h-1.6zM150.52 1684.12h1.6v1.6h-1.6zM143.42 1685.54h1.6v1.6h-1.6zM149.10 1688.38h1.6v1.6h-1.6zM147.68 1678.44h1.6v1.6h-1.6zM143.42 1682.70h1.6v1.6h-1.6zM150.52 1686.96h1.6v1.6h-1.6zM147.68 1679.86h1.6v1.6h-1.6zM144.84 1679.86h1.6v1.6h-1.6zM150.52 1679.86h1.6v1.6h-1.6zM144.84 1689.80h1.6v1.6h-1.6zM144.84 1678.44h1.6v1.6h-1.6z" fill="#3c0a50"/>
<path d="M124.96 1738.08h1.6v1.6h-1.6zM136.32 1726.72h1.6v1.6h-1.6zM124.96 1750.86h1.6v1.6h-1.6zM140.58 1728.14h1.6v1.6h-1.6zM137.74 1740.92h1.6v1.6h-1.6zM127.80 1728.14h1.6v1.6h-1.6zM126.38 1723.88h1.6v1.6h-1.6zM140.58 1736.66h1.6v1.6h-1.6zM143.42 1733.82h1.6v1.6h-1.6zM134.90 1721.04h1.6v1.6h-1.6zM144.84 1730.98h1.6v1.6h-1.6zM124.96 1753.70h1.6v1.6h-1.6zM130.64 1726.72h1.6v1.6h-1.6zM130.64 1743.76h1.6v1.6h-1.6zM133.48 1740.92h1.6v1.6h-1.6zM123.54 1749.44h1.6v1.6h-1.6zM129.22 1749.44h1.6v1.6h-1.6zM130.64 1750.86h1.6v1.6h-1.6zM122.12 1755.12h1.6v1.6h-1.6zM134.90 1740.92h1.6v1.6h-1.6zM134.90 1721.04h1.6v1.6h-1.6zM124.96 1725.30h1.6v1.6h-1.6zM127.80 1752.28h1.6v1.6h-1.6zM140.58 1728.14h1.6v1.6h-1.6zM120.70 1743.76h1.6v1.6h-1.6zM136.32 1740.92h1.6v1.6h-1.6zM140.58 1725.30h1.6v1.6h-1.6zM134.90 1740.92h1.6v1.6h-1.6zM127.80 1725.30h1.6v1.6h-1.6zM132.06 1726.72h1.6v1.6h-1.6zM124.96 1743.76h1.6v1.6h-1.6zM140.58 1726.72h1.6v1.6h-1.6zM130.64 1736.66h1.6v1.6h-1.6zM142.00 1733.82h1.6v1.6h-1.6zM127.80 1733.82h1.6v1.6h-1.6zM122.12 1740.92h1.6v1.6h-1.6zM127.80 1736.66h1.6v1.6h-1.6zM137.74 1735.24h1.6v1.6h-1.6zM134.90 1723.88h1.6v1.6h-1.6zM132.06 1740.92h1.6v1.6h-1.6zM137.74 1730.98h1.6v1.6h-1.6zM139.16 1730.98h1.6v1.6h-1.6zM137.74 1730.98h1.6v1.6h-1.6zM134.90 1738.08h1.6v1.6h-1.6zM146.26 1732.40h1.6v1.6h-1.6zM129.22 1746.60h1.6v1.6h-1.6zM123.54 1743.76h1.6v1.6h-1.6zM127.80 1739.50h1.6v1.6h-1.6zM134.90 1726.72h1.6v1.6h-1.6zM123.54 1725.30h1.6v1.6h-1.6zM129.22 1736.66h1.6v1.6h-1.6zM127.80 1730.98h1.6v1.6h-1.6zM123.54 1742.34h1.6v1.6h-1.6zM126.38 1749.44h1.6v1.6h-1.6zM133.48 1742.34h1.6v1.6h-1.6zM137.74 1739.50h1.6v1.6h-1.6zM129.22 1729.56h1.6v1.6h-1.6zM126.38 1740.92h1.6v1.6h-1.6zM130.64 1743.76h1.6v1.6h-1.6zM144.84 1729.56h1.6v1.6h-1.6zM136.32 1739.50h1.6v1.6h-1.6zM129.22 1750.86h1.6v1.6h-1.6zM122.12 1736.66h1.6v1.6h-1.6zM123.54 1729.56h1.6v1.6h-1.6zM124.96 1733.82h1.6v1.6h-1.6zM130.64 1748.02h1.6v1.6h-1.6zM142.00 1739.50h1.6v1.6h-1.6zM136.32 1736.66h1.6v1.6h-1.6zM137.74 1735.24h1.6v1.6h-1.6zM133.48 1738.08h1.6v1.6h-1.6zM140.58 1732.40h1.6v1.6h-1.6zM132.06 1742.34h1.6v1.6h-1.6zM130.64 1733.82h1.6v1.6h-1.6zM134.90 1738.08h1.6v1.6h-1.6zM124.96 1732.40h1.6v1.6h-1.6zM124.96 1743.76h1.6v1.6h-1.6zM136.32 1723.88h1.6v1.6h-1.6zM146.26 1733.82h1.6v1.6h-1.6zM136.32 1740.92h1.6v1.6h-1.6zM134.90 1740.92h1.6v1.6h-1.6zM139.16 1736.66h1.6v1.6h-1.6zM130.64 1743.76h1.6v1.6h-1.6zM139.16 1740.92h1.6v1.6h-1.6zM123.54 1735.24h1.6v1.6h-1.6zM132.06 1742.34h1.6v1.6h-1.6zM132.06 1745.18h1.6v1.6h-1.6zM147.68 1733.82h1.6v1.6h-1.6zM124.96 1733.82h1.6v1.6h-1.6zM134.90 1725.30h1.6v1.6h-1.6zM124.96 1732.40h1.6v1.6h-1.6zM134.90 1740.92h1.6v1.6h-1.6zM126.38 1728.14h1.6v1.6h-1.6zM137.74 1722.46h1.6v1.6h-1.6zM129.22 1748.02h1.6v1.6h-1.6zM139.16 1728.14h1.6v1.6h-1.6zM134.90 1742.34h1.6v1.6h-1.6zM127.80 1746.60h1.6v1.6h-1.6zM136.32 1736.66h1.6v1.6h-1.6zM123.54 1726.72h1.6v1.6h-1.6zM142.00 1725.30h1.6v1.6h-1.6zM123.54 1726.72h1.6v1.6h-1.6zM142.00 1733.82h1.6v1.6h-1.6zM140.58 1735.24h1.6v1.6h-1.6zM124.96 1730.98h1.6v1.6h-1.6zM123.54 1756.54h1.6v1.6h-1.6zM136.32 1733.82h1.6v1.6h-1.6zM133.48 1735.24h1.6v1.6h-1.6zM122.12 1756.54h1.6v1.6h-1.6zM132.06 1745.18h1.6v1.6h-1.6zM127.80 1722.46h1.6v1.6h-1.6zM143.42 1732.40h1.6v1.6h-1.6zM127.80 1736.66h1.6v1.6h-1.6zM140.58 1729.56h1.6v1.6h-1.6zM127.80 1728.14h1.6v1.6h-1.6zM130.64 1728.14h1.6v1.6h-1.6zM136.32 1725.30h1.6v1.6h-1.6zM134.90 1735.24h1.6v1.6h-1.6zM132.06 1723.88h1.6v1.6h-1.6zM123.54 1753.70h1.6v1.6h-1.6zM130.64 1730.98h1.6v1.6h-1.6z" fill="#12d416"/>
<path d="M126.38 1732.40h1.6v1.6h-1.6zM126.38 1722.46h1.6v1.6h-1.6zM139.16 1733.82h1.6v1.6h-1.6zM124.96 1748.02h1.6v1.6h-1.6zM123.54 1730.98h1.6v1.6h-1.6zM143.42 1726.72h1.6v1.6h-1.6zM130.64 1749.44h1.6v1.6h-1.6zM134.90 1729.56h1.6v1.6h-1.6zM133.48 1725.30h1.6v1.6h-1.6zM140.58 1730.98h1.6v1.6h-1.6zM130.64 1730.98h1.6v1.6h-1.6zM137.74 1729.56h1.6v1.6h-1.6zM134.90 1742.34h1.6v1.6h-1.6zM127.80 1750.86h1.6v1.6h-1.6zM130.64 1746.60h1.6v1.6h-1.6zM136.32 1732.40h1.6v1.6h-1.6zM130.64 1723.88h1.6v1.6h-1.6zM124.96 1753.70h1.6v1.6h-1.6zM129.22 1746.60h1.6v1.6h-1.6zM123.54 1742.34h1.6v1.6h-1.6zM130.64 1740.92h1.6v1.6h-1.6zM129.22 1723.88h1.6v1.6h-1.6zM129.22 1729.56h1.6v1.6h-1.6zM123.54 1749.44h1.6v1.6h-1.6zM127.80 1736.66h1.6v1.6h-1.6zM123.54 1730.98h1.6v1.6h-1.6zM120.70 1748.02h1.6v1.6h-1.6zM139.16 1735.24h1.6v1.6h-1.6zM132.06 1746.60h1.6v1.6h-1.6zM140.58 1730.98h1.6v1.6h-1.6zM143.42 1735.24h1.6v1.6h-1.6zM137.74 1728.14h1.6v1.6h-1.6zM123.54 1756.54h1.6v1.6h-1.6zM124.96 1728.14h1.6v1.6h-1.6zM129.22 1735.24h1.6v1.6h-1.6zM137.74 1728.14h1.6v1.6h-1.6zM140.58 1730.98h1.6v1.6h-1.6zM132.06 1748.02h1.6v1.6h-1.6zM127.80 1722.46h1.6v1.6h-1.6zM123.54 1752.28h1.6v1.6h-1.6zM126.38 1756.54h1.6v1.6h-1.6zM142.00 1723.88h1.6v1.6h-1.6zM139.16 1736.66h1.6v1.6h-1.6zM127.80 1723.88h1.6v1.6h-1.6zM137.74 1738.08h1.6v1.6h-1.6zM122.12 1748.02h1.6v1.6h-1.6zM132.06 1740.92h1.6v1.6h-1.6zM127.80 1742.34h1.6v1.6h-1.6zM136.32 1730.98h1.6v1.6h-1.6zM122.12 1735.24h1.6v1.6h-1.6zM132.06 1728.14h1.6v1.6h-1.6zM129.22 1726.72h1.6v1.6h-1.6zM127.80 1729.56h1.6v1.6h-1.6zM134.90 1738.08h1.6v1.6h-1.6zM146.26 1735.24h1.6v1.6h-1.6zM124.96 1742.34h1.6v1.6h-1.6zM124.96 1746.60h1.6v1.6h-1.6zM137.74 1739.50h1.6v1.6h-1.6zM123.54 1732.40h1.6v1.6h-1.6zM130.64 1728.14h1.6v1.6h-1.6zM126.38 1748.02h1.6v1.6h-1.6zM133.48 1725.30h1.6v1.6h-1.6zM129.22 1739.50h1.6v1.6h-1.6zM130.64 1726.72h1.6v1.6h-1.6zM122.12 1749.44h1.6v1.6h-1.6zM123.54 1739.50h1.6v1.6h-1.6zM132.06 1728.14h1.6v1.6h-1.6zM139.16 1730.98h1.6v1.6h-1.6zM127.80 1726.72h1.6v1.6h-1.6zM120.70 1750.86h1.6v1.6h-1.6zM143.42 1732.40h1.6v1.6h-1.6zM124.96 1745.18h1.6v1.6h-1.6zM124.96 1752.28h1.6v1.6h-1.6zM129.22 1728.14h1.6v1.6h-1.6zM143.42 1733.82h1.6v1.6h-1.6zM130.64 1742.34h1.6v1.6h-1.6zM127.80 1722.46h1.6v1.6h-1.6zM134.90 1740.92h1.6v1.6h-1.6zM124.96 1732.40h1.6v1.6h-1.6zM136.32 1723.88h1.6v1.6h-1.6zM139.16 1726.72h1.6v1.6h-1.6zM132.06 1728.14h1.6v1.6h-1.6zM142.00 1738.08h1.6v1.6h-1.6zM127.80 1746.60h1.6v1.6h-1.6zM134.90 1736.66h1.6v1.6h-1.6zM129.22 1738.08h1.6v1.6h-1.6zM129.22 1738.08h1.6v1.6h-1.6zM136.32 1733.82h1.6v1.6h-1.6zM126.38 1723.88h1.6v1.6h-1.6zM129.22 1739.50h1.6v1.6h-1.6z" fill="#044a08"/>
<path d="M129.22 1743.76h1.6v1.6h-1.6zM139.16 1732.40h1.6v1.6h-1.6zM139.16 1738.08h1.6v1.6h-1.6zM123.54 1746.60h1.6v1.6h-1.6zM130.64 1743.76h1.6v1.6h-1.6zM132.06 1740.92h1.6v1.6h-1.6zM136.32 1736.66h1.6v1.6h-1.6zM123.54 1728.14h1.6v1.6h-1.6zM123.54 1755.12h1.6v1.6h-1.6zM127.80 1723.88h1.6v1.6h-1.6zM134.90 1730.98h1.6v1.6h-1.6zM133.48 1742.34h1.6v1.6h-1.6zM126.38 1743.76h1.6v1.6h-1.6zM123.54 1740.92h1.6v1.6h-1.6z" fill="#e8ffe8"/>
<path d="M129.22 1755.12h1.6v1.6h-1.6zM126.38 1722.46h1.6v1.6h-1.6zM130.64 1749.44h1.6v1.6h-1.6zM136.32 1721.04h1.6v1.6h-1.6zM132.06 1719.62h1.6v1.6h-1.6zM140.58 1721.04h1.6v1.6h-1.6zM122.12 1750.86h1.6v1.6h-1.6zM127.80 1723.88h1.6v1.6h-1.6zM122.12 1723.88h1.6v1.6h-1.6zM146.26 1730.98h1.6v1.6h-1.6zM119.28 1735.24h1.6v1.6h-1.6zM132.06 1750.86h1.6v1.6h-1.6zM139.16 1719.62h1.6v1.6h-1.6zM119.28 1748.02h1.6v1.6h-1.6zM132.06 1722.46h1.6v1.6h-1.6zM123.54 1729.56h1.6v1.6h-1.6zM129.22 1757.96h1.6v1.6h-1.6zM123.54 1748.02h1.6v1.6h-1.6zM122.12 1760.80h1.6v1.6h-1.6zM139.16 1740.92h1.6v1.6h-1.6zM133.48 1721.04h1.6v1.6h-1.6zM122.12 1748.02h1.6v1.6h-1.6zM146.26 1729.56h1.6v1.6h-1.6zM137.74 1719.62h1.6v1.6h-1.6zM123.54 1755.12h1.6v1.6h-1.6zM123.54 1725.30h1.6v1.6h-1.6zM136.32 1745.18h1.6v1.6h-1.6zM126.38 1725.30h1.6v1.6h-1.6zM120.70 1760.80h1.6v1.6h-1.6zM139.16 1719.62h1.6v1.6h-1.6zM120.70 1738.08h1.6v1.6h-1.6zM147.68 1738.08h1.6v1.6h-1.6zM129.22 1755.12h1.6v1.6h-1.6zM143.42 1738.08h1.6v1.6h-1.6zM142.00 1739.50h1.6v1.6h-1.6zM129.22 1753.70h1.6v1.6h-1.6zM137.74 1743.76h1.6v1.6h-1.6zM136.32 1719.62h1.6v1.6h-1.6zM144.84 1729.56h1.6v1.6h-1.6zM124.96 1752.28h1.6v1.6h-1.6zM124.96 1726.72h1.6v1.6h-1.6zM122.12 1748.02h1.6v1.6h-1.6zM123.54 1756.54h1.6v1.6h-1.6zM147.68 1728.14h1.6v1.6h-1.6zM122.12 1730.98h1.6v1.6h-1.6zM120.70 1748.02h1.6v1.6h-1.6zM123.54 1759.38h1.6v1.6h-1.6zM142.00 1740.92h1.6v1.6h-1.6zM150.52 1733.82h1.6v1.6h-1.6zM144.84 1738.08h1.6v1.6h-1.6zM146.26 1736.66h1.6v1.6h-1.6zM119.28 1739.50h1.6v1.6h-1.6zM129.22 1753.70h1.6v1.6h-1.6zM127.80 1722.46h1.6v1.6h-1.6zM117.86 1752.28h1.6v1.6h-1.6zM149.10 1735.24h1.6v1.6h-1.6zM130.64 1722.46h1.6v1.6h-1.6zM120.70 1728.14h1.6v1.6h-1.6zM140.58 1740.92h1.6v1.6h-1.6zM136.32 1745.18h1.6v1.6h-1.6zM146.26 1728.14h1.6v1.6h-1.6zM146.26 1728.14h1.6v1.6h-1.6zM142.00 1742.34h1.6v1.6h-1.6zM120.70 1738.08h1.6v1.6h-1.6zM123.54 1752.28h1.6v1.6h-1.6zM130.64 1718.20h1.6v1.6h-1.6zM147.68 1736.66h1.6v1.6h-1.6zM133.48 1748.02h1.6v1.6h-1.6zM122.12 1735.24h1.6v1.6h-1.6zM119.28 1750.86h1.6v1.6h-1.6zM120.70 1759.38h1.6v1.6h-1.6zM142.00 1740.92h1.6v1.6h-1.6zM144.84 1735.24h1.6v1.6h-1.6zM144.84 1728.14h1.6v1.6h-1.6zM117.86 1730.98h1.6v1.6h-1.6zM124.96 1719.62h1.6v1.6h-1.6zM147.68 1735.24h1.6v1.6h-1.6zM136.32 1721.04h1.6v1.6h-1.6zM119.28 1745.18h1.6v1.6h-1.6zM126.38 1753.70h1.6v1.6h-1.6zM126.38 1757.96h1.6v1.6h-1.6zM144.84 1725.30h1.6v1.6h-1.6zM119.28 1750.86h1.6v1.6h-1.6zM122.12 1728.14h1.6v1.6h-1.6zM133.48 1749.44h1.6v1.6h-1.6zM120.70 1725.30h1.6v1.6h-1.6zM117.86 1752.28h1.6v1.6h-1.6zM143.42 1725.30h1.6v1.6h-1.6zM124.96 1723.88h1.6v1.6h-1.6zM133.48 1746.60h1.6v1.6h-1.6zM122.12 1732.40h1.6v1.6h-1.6zM139.16 1718.20h1.6v1.6h-1.6zM140.58 1721.04h1.6v1.6h-1.6zM146.26 1726.72h1.6v1.6h-1.6zM123.54 1760.80h1.6v1.6h-1.6zM134.90 1748.02h1.6v1.6h-1.6zM132.06 1719.62h1.6v1.6h-1.6zM122.12 1760.80h1.6v1.6h-1.6zM126.38 1721.04h1.6v1.6h-1.6zM124.96 1732.40h1.6v1.6h-1.6zM143.42 1726.72h1.6v1.6h-1.6zM139.16 1743.76h1.6v1.6h-1.6zM119.28 1749.44h1.6v1.6h-1.6zM123.54 1728.14h1.6v1.6h-1.6zM139.16 1718.20h1.6v1.6h-1.6zM146.26 1726.72h1.6v1.6h-1.6zM146.26 1732.40h1.6v1.6h-1.6zM123.54 1738.08h1.6v1.6h-1.6zM126.38 1756.54h1.6v1.6h-1.6zM122.12 1740.92h1.6v1.6h-1.6z" fill="#064c0c"/>
<path d="M146.26 1729.56h1.6v1.6h-1.6zM147.68 1713.94h1.6v1.6h-1.6zM149.10 1732.40h1.6v1.6h-1.6zM130.64 1728.14h1.6v1.6h-1.6zM136.32 1719.62h1.6v1.6h-1.6zM137.74 1719.62h1.6v1.6h-1.6zM151.94 1732.40h1.6v1.6h-1.6zM122.12 1738.08h1.6v1.6h-1.6zM144.84 1721.04h1.6v1.6h-1.6zM123.54 1722.46h1.6v1.6h-1.6zM140.58 1742.34h1.6v1.6h-1.6zM119.28 1732.40h1.6v1.6h-1.6zM132.06 1721.04h1.6v1.6h-1.6zM142.00 1746.60h1.6v1.6h-1.6zM136.32 1716.78h1.6v1.6h-1.6zM130.64 1723.88h1.6v1.6h-1.6zM120.70 1735.24h1.6v1.6h-1.6zM126.38 1725.30h1.6v1.6h-1.6zM147.68 1732.40h1.6v1.6h-1.6zM132.06 1722.46h1.6v1.6h-1.6zM137.74 1739.50h1.6v1.6h-1.6zM120.70 1719.62h1.6v1.6h-1.6zM126.38 1749.44h1.6v1.6h-1.6zM126.38 1722.46h1.6v1.6h-1.6zM140.58 1742.34h1.6v1.6h-1.6zM120.70 1730.98h1.6v1.6h-1.6zM149.10 1750.86h1.6v1.6h-1.6zM116.44 1719.62h1.6v1.6h-1.6zM142.00 1725.30h1.6v1.6h-1.6zM144.84 1728.14h1.6v1.6h-1.6zM122.12 1733.82h1.6v1.6h-1.6zM126.38 1719.62h1.6v1.6h-1.6zM120.70 1757.96h1.6v1.6h-1.6zM129.22 1728.14h1.6v1.6h-1.6zM116.44 1740.92h1.6v1.6h-1.6zM123.54 1730.98h1.6v1.6h-1.6zM116.44 1756.54h1.6v1.6h-1.6zM137.74 1738.08h1.6v1.6h-1.6zM119.28 1763.64h1.6v1.6h-1.6zM132.06 1755.12h1.6v1.6h-1.6z" fill="#0c5a14"/>
<path d="M123.54 1794.88h1.6v1.6h-1.6zM122.12 1775.00h1.6v1.6h-1.6zM110.76 1750.86h1.6v1.6h-1.6zM119.28 1770.74h1.6v1.6h-1.6zM117.86 1766.48h1.6v1.6h-1.6zM113.60 1759.38h1.6v1.6h-1.6zM106.50 1759.38h1.6v1.6h-1.6zM120.70 1766.48h1.6v1.6h-1.6zM117.86 1786.36h1.6v1.6h-1.6zM117.86 1776.42h1.6v1.6h-1.6zM122.12 1787.78h1.6v1.6h-1.6zM120.70 1776.42h1.6v1.6h-1.6zM119.28 1772.16h1.6v1.6h-1.6zM106.50 1759.38h1.6v1.6h-1.6zM113.60 1769.32h1.6v1.6h-1.6zM113.60 1766.48h1.6v1.6h-1.6zM115.02 1766.48h1.6v1.6h-1.6zM113.60 1767.90h1.6v1.6h-1.6zM115.02 1763.64h1.6v1.6h-1.6zM116.44 1756.54h1.6v1.6h-1.6zM122.12 1773.58h1.6v1.6h-1.6zM117.86 1783.52h1.6v1.6h-1.6zM122.12 1797.72h1.6v1.6h-1.6zM115.02 1763.64h1.6v1.6h-1.6zM115.02 1755.12h1.6v1.6h-1.6zM122.12 1800.56h1.6v1.6h-1.6zM120.70 1769.32h1.6v1.6h-1.6zM126.38 1800.56h1.6v1.6h-1.6zM120.70 1773.58h1.6v1.6h-1.6zM116.44 1776.42h1.6v1.6h-1.6zM115.02 1750.86h1.6v1.6h-1.6zM116.44 1770.74h1.6v1.6h-1.6zM113.60 1766.48h1.6v1.6h-1.6zM113.60 1762.22h1.6v1.6h-1.6zM115.02 1759.38h1.6v1.6h-1.6zM122.12 1770.74h1.6v1.6h-1.6zM122.12 1796.30h1.6v1.6h-1.6zM120.70 1780.68h1.6v1.6h-1.6zM123.54 1797.72h1.6v1.6h-1.6zM123.54 1790.62h1.6v1.6h-1.6zM115.02 1769.32h1.6v1.6h-1.6zM123.54 1789.20h1.6v1.6h-1.6zM110.76 1759.38h1.6v1.6h-1.6zM119.28 1784.94h1.6v1.6h-1.6zM123.54 1789.20h1.6v1.6h-1.6zM122.12 1769.32h1.6v1.6h-1.6zM116.44 1770.74h1.6v1.6h-1.6zM107.92 1757.96h1.6v1.6h-1.6zM116.44 1762.22h1.6v1.6h-1.6zM119.28 1770.74h1.6v1.6h-1.6zM124.96 1773.58h1.6v1.6h-1.6zM116.44 1766.48h1.6v1.6h-1.6zM119.28 1776.42h1.6v1.6h-1.6zM127.80 1794.88h1.6v1.6h-1.6zM115.02 1748.02h1.6v1.6h-1.6zM117.86 1760.80h1.6v1.6h-1.6zM113.60 1769.32h1.6v1.6h-1.6zM119.28 1783.52h1.6v1.6h-1.6zM127.80 1799.14h1.6v1.6h-1.6zM120.70 1772.16h1.6v1.6h-1.6zM113.60 1762.22h1.6v1.6h-1.6zM116.44 1760.80h1.6v1.6h-1.6zM120.70 1783.52h1.6v1.6h-1.6zM116.44 1783.52h1.6v1.6h-1.6zM122.12 1767.90h1.6v1.6h-1.6zM117.86 1777.84h1.6v1.6h-1.6zM122.12 1792.04h1.6v1.6h-1.6zM120.70 1773.58h1.6v1.6h-1.6zM124.96 1794.88h1.6v1.6h-1.6zM120.70 1790.62h1.6v1.6h-1.6zM119.28 1779.26h1.6v1.6h-1.6zM116.44 1765.06h1.6v1.6h-1.6zM122.12 1775.00h1.6v1.6h-1.6zM115.02 1767.90h1.6v1.6h-1.6zM112.18 1753.70h1.6v1.6h-1.6zM119.28 1770.74h1.6v1.6h-1.6zM109.34 1760.80h1.6v1.6h-1.6zM113.60 1770.74h1.6v1.6h-1.6zM127.80 1796.30h1.6v1.6h-1.6zM119.28 1784.94h1.6v1.6h-1.6zM119.28 1780.68h1.6v1.6h-1.6zM122.12 1770.74h1.6v1.6h-1.6zM115.02 1773.58h1.6v1.6h-1.6zM119.28 1797.72h1.6v1.6h-1.6zM120.70 1766.48h1.6v1.6h-1.6zM122.12 1792.04h1.6v1.6h-1.6zM123.54 1789.20h1.6v1.6h-1.6zM116.44 1784.94h1.6v1.6h-1.6zM117.86 1784.94h1.6v1.6h-1.6zM119.28 1772.16h1.6v1.6h-1.6zM116.44 1749.44h1.6v1.6h-1.6zM122.12 1790.62h1.6v1.6h-1.6zM124.96 1796.30h1.6v1.6h-1.6zM113.60 1762.22h1.6v1.6h-1.6zM123.54 1790.62h1.6v1.6h-1.6zM110.76 1752.28h1.6v1.6h-1.6zM117.86 1757.96h1.6v1.6h-1.6zM110.76 1752.28h1.6v1.6h-1.6zM120.70 1792.04h1.6v1.6h-1.6zM119.28 1779.26h1.6v1.6h-1.6zM120.70 1789.20h1.6v1.6h-1.6zM117.86 1793.46h1.6v1.6h-1.6zM123.54 1800.56h1.6v1.6h-1.6zM124.96 1796.30h1.6v1.6h-1.6zM122.12 1794.88h1.6v1.6h-1.6zM122.12 1775.00h1.6v1.6h-1.6zM119.28 1800.56h1.6v1.6h-1.6zM119.28 1783.52h1.6v1.6h-1.6zM120.70 1787.78h1.6v1.6h-1.6zM119.28 1770.74h1.6v1.6h-1.6zM123.54 1790.62h1.6v1.6h-1.6zM117.86 1777.84h1.6v1.6h-1.6zM117.86 1777.84h1.6v1.6h-1.6zM113.60 1752.28h1.6v1.6h-1.6zM117.86 1772.16h1.6v1.6h-1.6zM110.76 1752.28h1.6v1.6h-1.6zM112.18 1755.12h1.6v1.6h-1.6zM120.70 1776.42h1.6v1.6h-1.6zM124.96 1799.14h1.6v1.6h-1.6zM110.76 1763.64h1.6v1.6h-1.6zM117.86 1773.58h1.6v1.6h-1.6zM120.70 1775.00h1.6v1.6h-1.6zM110.76 1753.70h1.6v1.6h-1.6zM116.44 1757.96h1.6v1.6h-1.6zM115.02 1770.74h1.6v1.6h-1.6zM106.50 1762.22h1.6v1.6h-1.6zM123.54 1790.62h1.6v1.6h-1.6z" fill="#ffffff"/>
<path d="M120.70 1779.26h1.6v1.6h-1.6zM116.44 1750.86h1.6v1.6h-1.6zM127.80 1784.94h1.6v1.6h-1.6zM122.12 1752.28h1.6v1.6h-1.6zM126.38 1777.84h1.6v1.6h-1.6zM117.86 1756.54h1.6v1.6h-1.6zM123.54 1770.74h1.6v1.6h-1.6zM120.70 1783.52h1.6v1.6h-1.6zM120.70 1779.26h1.6v1.6h-1.6zM120.70 1765.06h1.6v1.6h-1.6zM124.96 1783.52h1.6v1.6h-1.6zM123.54 1790.62h1.6v1.6h-1.6zM129.22 1800.56h1.6v1.6h-1.6zM129.22 1797.72h1.6v1.6h-1.6zM119.28 1786.36h1.6v1.6h-1.6zM123.54 1787.78h1.6v1.6h-1.6zM117.86 1752.28h1.6v1.6h-1.6zM113.60 1748.02h1.6v1.6h-1.6zM107.92 1745.18h1.6v1.6h-1.6zM122.12 1777.84h1.6v1.6h-1.6zM122.12 1767.90h1.6v1.6h-1.6zM109.34 1750.86h1.6v1.6h-1.6zM122.12 1760.80h1.6v1.6h-1.6zM122.12 1787.78h1.6v1.6h-1.6zM123.54 1782.10h1.6v1.6h-1.6zM122.12 1787.78h1.6v1.6h-1.6zM120.70 1787.78h1.6v1.6h-1.6zM124.96 1792.04h1.6v1.6h-1.6zM106.50 1750.86h1.6v1.6h-1.6zM117.86 1755.12h1.6v1.6h-1.6zM116.44 1749.44h1.6v1.6h-1.6zM117.86 1756.54h1.6v1.6h-1.6zM129.22 1800.56h1.6v1.6h-1.6zM129.22 1796.30h1.6v1.6h-1.6zM116.44 1759.38h1.6v1.6h-1.6zM119.28 1765.06h1.6v1.6h-1.6zM113.60 1749.44h1.6v1.6h-1.6zM110.76 1745.18h1.6v1.6h-1.6zM119.28 1750.86h1.6v1.6h-1.6zM116.44 1760.80h1.6v1.6h-1.6zM127.80 1796.30h1.6v1.6h-1.6zM115.02 1746.60h1.6v1.6h-1.6zM122.12 1786.36h1.6v1.6h-1.6zM126.38 1790.62h1.6v1.6h-1.6zM116.44 1746.60h1.6v1.6h-1.6zM123.54 1789.20h1.6v1.6h-1.6zM120.70 1779.26h1.6v1.6h-1.6zM116.44 1749.44h1.6v1.6h-1.6zM122.12 1779.26h1.6v1.6h-1.6zM117.86 1763.64h1.6v1.6h-1.6zM110.76 1749.44h1.6v1.6h-1.6zM115.02 1753.70h1.6v1.6h-1.6zM124.96 1776.42h1.6v1.6h-1.6zM116.44 1756.54h1.6v1.6h-1.6zM116.44 1752.28h1.6v1.6h-1.6zM123.54 1784.94h1.6v1.6h-1.6zM122.12 1790.62h1.6v1.6h-1.6zM124.96 1784.94h1.6v1.6h-1.6zM116.44 1748.02h1.6v1.6h-1.6zM119.28 1746.60h1.6v1.6h-1.6zM123.54 1767.90h1.6v1.6h-1.6zM122.12 1769.32h1.6v1.6h-1.6zM117.86 1782.10h1.6v1.6h-1.6zM116.44 1748.02h1.6v1.6h-1.6zM123.54 1772.16h1.6v1.6h-1.6zM116.44 1755.12h1.6v1.6h-1.6zM122.12 1780.68h1.6v1.6h-1.6zM126.38 1763.64h1.6v1.6h-1.6zM124.96 1777.84h1.6v1.6h-1.6zM122.12 1779.26h1.6v1.6h-1.6z" fill="#01018c"/>
<path d="M134.90 1779.26h1.6v1.6h-1.6zM133.48 1786.36h1.6v1.6h-1.6zM140.58 1790.62h1.6v1.6h-1.6zM143.42 1799.14h1.6v1.6h-1.6zM139.16 1796.30h1.6v1.6h-1.6zM139.16 1800.56h1.6v1.6h-1.6zM129.22 1790.62h1.6v1.6h-1.6zM133.48 1793.46h1.6v1.6h-1.6zM127.80 1776.42h1.6v1.6h-1.6zM129.22 1772.16h1.6v1.6h-1.6zM133.48 1793.46h1.6v1.6h-1.6zM136.32 1793.46h1.6v1.6h-1.6z" fill="#01018c"/>
<path d="M198.80 1607.44h1.6v1.6h-1.6zM214.42 1608.86h1.6v1.6h-1.6zM227.20 1607.44h1.6v1.6h-1.6zM215.84 1618.80h1.6v1.6h-1.6zM228.62 1618.80h1.6v1.6h-1.6zM224.36 1623.06h1.6v1.6h-1.6zM204.48 1624.48h1.6v1.6h-1.6zM204.48 1628.74h1.6v1.6h-1.6zM218.68 1628.74h1.6v1.6h-1.6zM191.70 1631.58h1.6v1.6h-1.6zM195.96 1635.84h1.6v1.6h-1.6zM208.74 1640.10h1.6v1.6h-1.6zM194.54 1641.52h1.6v1.6h-1.6zM191.70 1644.36h1.6v1.6h-1.6zM203.06 1647.20h1.6v1.6h-1.6zM203.06 1650.04h1.6v1.6h-1.6zM225.78 1652.88h1.6v1.6h-1.6zM188.86 1654.30h1.6v1.6h-1.6zM195.96 1654.30h1.6v1.6h-1.6zM153.36 1659.98h1.6v1.6h-1.6zM173.24 1659.98h1.6v1.6h-1.6zM193.12 1661.40h1.6v1.6h-1.6zM200.22 1661.40h1.6v1.6h-1.6zM200.22 1664.24h1.6v1.6h-1.6zM210.16 1682.70h1.6v1.6h-1.6zM232.88 1691.22h1.6v1.6h-1.6zM242.82 1691.22h1.6v1.6h-1.6zM213.00 1696.90h1.6v1.6h-1.6zM227.20 1696.90h1.6v1.6h-1.6zM225.78 1699.74h1.6v1.6h-1.6zM251.34 1701.16h1.6v1.6h-1.6zM204.48 1708.26h1.6v1.6h-1.6zM201.64 1721.04h1.6v1.6h-1.6zM184.60 1722.46h1.6v1.6h-1.6zM174.66 1728.14h1.6v1.6h-1.6zM156.20 1733.82h1.6v1.6h-1.6zM144.84 1748.02h1.6v1.6h-1.6zM144.84 1755.12h1.6v1.6h-1.6zM153.36 1763.64h1.6v1.6h-1.6zM281.16 1750.86h1.6v1.6h-1.6zM173.24 1662.82h1.6v1.6h-1.6zM177.50 1668.50h1.6v1.6h-1.6zM186.02 1672.76h1.6v1.6h-1.6zM124.96 1692.64h1.6v1.6h-1.6zM127.80 1704.00h1.6v1.6h-1.6zM116.44 1730.98h1.6v1.6h-1.6zM113.60 1736.66h1.6v1.6h-1.6zM109.34 1748.02h1.6v1.6h-1.6z" fill="#1d4f52"/>
<path d="M231.46 1607.44h1.6v1.6h-1.6zM254.18 1638.68h1.6v1.6h-1.6zM232.88 1645.78h1.6v1.6h-1.6zM177.50 1650.04h1.6v1.6h-1.6zM156.20 1667.08h1.6v1.6h-1.6zM200.22 1671.34h1.6v1.6h-1.6zM251.34 1678.44h1.6v1.6h-1.6zM213.00 1691.22h1.6v1.6h-1.6zM255.60 1692.64h1.6v1.6h-1.6zM201.64 1711.10h1.6v1.6h-1.6zM195.96 1716.78h1.6v1.6h-1.6zM203.06 1740.92h1.6v1.6h-1.6zM186.02 1753.70h1.6v1.6h-1.6zM254.18 1763.64h1.6v1.6h-1.6zM291.10 1756.54h1.6v1.6h-1.6z" fill="#c23030"/>
<path d="M235.72 1767.90h1.6v1.6h-1.6zM288.26 1782.10h1.6v1.6h-1.6zM296.78 1787.78h1.6v1.6h-1.6zM279.74 1796.30h1.6v1.6h-1.6zM214.42 1789.20h1.6v1.6h-1.6zM200.22 1792.04h1.6v1.6h-1.6zM157.62 1797.72h1.6v1.6h-1.6zM143.42 1799.14h1.6v1.6h-1.6z" fill="#3a3aa8"/>
<path d="M95.7 1607.5 V1812.7 H299.5" fill="none" stroke="#1c1c1c" stroke-width="2"/>
</svg>
<div class="t" style="top:1579.56px;font-size:20.60px;color:#2e2e2e;left:77.20px;transform:scaleX(0.8784);transform-origin:0 0;-webkit-text-stroke:0.3px #2e2e2e;">LAS</div>
<div class="t" style="top:1570.86px;font-size:20.60px;color:#2e2e2e;left:178.00px;transform:scaleX(0.9242);transform-origin:0 0;-webkit-text-stroke:0.3px #2e2e2e;">DIFF</div>
<div class="t" style="top:1801.16px;font-size:20.60px;color:#2e2e2e;left:303.00px;transform:scaleX(0.9857);transform-origin:0 0;-webkit-text-stroke:0.3px #2e2e2e;">MAS</div>
<div class="t" style="top:1816.70px;font-size:14.30px;color:#000;left:193.70px;transform:scaleX(0.9818);transform-origin:0 0;">Complexity</div>
<div class="t" style="left:71.95px;top:1656.05px;font-size:14.30px;transform:rotate(90deg) scaleX(0.8412);transform-origin:50% 50%;">Size</div>
<!-- charts2 -->
<svg class="a" style="left:640px;top:1600px" width="240" height="225" viewBox="640 1600 240 225"><polygon points="653.9,1812.2 658.5,1805.7 660.8,1799.3 660.4,1781.7 661.8,1745.6 663.1,1701.1 665.0,1674.3 667.8,1666.9 671.0,1679.8 671.9,1713.1 673.8,1755.7 675.2,1788.1 677.0,1806.7 697.4,1806.7 704.8,1812.2" fill="#dcf0fb"/><polyline points="653.9,1812.2 658.5,1805.7 660.8,1799.3 660.4,1781.7 661.8,1745.6 663.1,1701.1 665.0,1674.3 667.8,1666.9 671.0,1679.8 671.9,1713.1 673.8,1755.7 675.2,1788.1 677.0,1806.7 697.4,1806.7 704.8,1812.2" fill="none" stroke="#fbfb45" stroke-width="1.7" stroke-linejoin="round"/><path d="M651.6 1607.5 V1812.7 H865.5" fill="none" stroke="#1c1c1c" stroke-width="1.8"/></svg>
<div class="t" style="top:1570.56px;font-size:20.60px;color:#2e2e2e;left:735.80px;transform:scaleX(0.9551);transform-origin:0 0;-webkit-text-stroke:0.3px #2e2e2e;">WBC</div>
<div class="t" style="top:1801.16px;font-size:20.60px;color:#2e2e2e;left:872.40px;transform:scaleX(0.8553);transform-origin:0 0;-webkit-text-stroke:0.3px #2e2e2e;">LAS</div>
<svg class="a" style="left:160px;top:1925px" width="260" height="210" viewBox="160 1925 260 210"><rect x="321" y="2118.2" width="18" height="1.2" fill="#9a9a9a"/><polygon points="206.7,2120.2 220.9,2116.1 224.8,2097.4 228.7,2055.9 231.3,1993.7 235.2,1947.0 238.6,1931.5 242.4,1947.0 245.6,1993.7 249.4,2055.9 253.3,2087.0 257.2,2110.4 263.7,2117.6 290.9,2117.6 295.3,2115.0 301.3,2117.6 322.0,2118.2 323.3,2120.2" fill="#fb0000"/><path d="M209.3 1932.8V2118M300 1932.8V2118" stroke="#1c1c1c" stroke-width="1.6" stroke-dasharray="5.5 3.6" fill="none"/><path d="M176.9 1932.8V2130M176.9 2120.6H392 M176.9 2120.6V2130M219.6 2120.6V2130M262.4 2120.6V2130M306.5 2120.6V2130M349.3 2120.6V2130M392.0 2120.6V2130" fill="none" stroke="#1c1c1c" stroke-width="1.6"/></svg>
<div class="t" style="top:1895.76px;font-size:20.60px;color:#2e2e2e;left:261.25px;transform:scaleX(0.9312);transform-origin:50% 0;-webkit-text-stroke:0.3px #2e2e2e;">RBC</div>
<div class="t" style="top:2135.12px;font-size:21.60px;color:#2e2e2e;left:168.49px;transform:scaleX(0.8325);transform-origin:50% 0;-webkit-text-stroke:0.3px #2e2e2e;">0</div>
<div class="t" style="top:2135.12px;font-size:21.60px;color:#2e2e2e;left:242.98px;transform:scaleX(0.9573);transform-origin:50% 0;-webkit-text-stroke:0.3px #2e2e2e;">100</div>
<div class="t" style="top:2135.12px;font-size:21.60px;color:#2e2e2e;left:327.38px;transform:scaleX(0.9573);transform-origin:50% 0;-webkit-text-stroke:0.3px #2e2e2e;">200</div>
<div class="t" style="top:2108.86px;font-size:20.60px;color:#2e2e2e;left:407.50px;transform:scaleX(0.9022);transform-origin:0 0;-webkit-text-stroke:0.3px #2e2e2e;">fL</div>
<svg class="a" style="left:630px;top:1925px" width="260" height="210" viewBox="630 1925 260 210"><polygon points="653.3,2120.2 657.2,2105.2 668.9,2058.5 678.0,2006.7 684.4,1967.8 688.3,1949.6 693.5,1938.0 699.5,1931.5 706.5,1939.3 713.0,1952.2 719.4,1973.0 728.5,2006.7 738.9,2037.8 749.3,2058.5 757.0,2066.3 767.4,2080.6 772.6,2084.5 779.1,2092.2 788.2,2097.4 801.1,2103.9 816.7,2103.9 824.5,2105.2 834.8,2102.6 842.6,2094.8 850.4,2081.9 855.6,2066.3 860.7,2045.6 865.4,2045.6 865.4,2120.2" fill="#00f600"/><path d="M658.5 1932.8V2118M812.5 1932.8V2118" stroke="#1c1c1c" stroke-width="1.6" stroke-dasharray="5.5 3.6" fill="none"/><path d="M652 1932.8V2130M652 2120.6H865.6 M652.0 2120.6V2130M685.7 2120.6V2130M718.7 2120.6V2130M752.4 2120.6V2130M786.3 2120.6V2130M819.3 2120.6V2130M853.0 2120.6V2130" fill="none" stroke="#1c1c1c" stroke-width="1.6"/></svg>
<div class="t" style="top:1895.76px;font-size:20.60px;color:#2e2e2e;left:740.87px;transform:scaleX(0.8413);transform-origin:50% 0;-webkit-text-stroke:0.3px #2e2e2e;">PLT</div>
<div class="t" style="top:2135.12px;font-size:21.60px;color:#2e2e2e;left:643.99px;transform:scaleX(0.8325);transform-origin:50% 0;-webkit-text-stroke:0.3px #2e2e2e;">0</div>
<div class="t" style="top:2135.12px;font-size:21.60px;color:#2e2e2e;left:705.99px;transform:scaleX(0.9781);transform-origin:50% 0;-webkit-text-stroke:0.3px #2e2e2e;">10</div>
<div class="t" style="top:2135.12px;font-size:21.60px;color:#2e2e2e;left:771.99px;transform:scaleX(0.9781);transform-origin:50% 0;-webkit-text-stroke:0.3px #2e2e2e;">20</div>
<div class="t" style="top:2135.12px;font-size:21.60px;color:#2e2e2e;left:838.39px;transform:scaleX(0.9781);transform-origin:50% 0;-webkit-text-stroke:0.3px #2e2e2e;">30</div>
<div class="t" style="top:2108.86px;font-size:20.60px;color:#2e2e2e;left:882.50px;transform:scaleX(0.9022);transform-origin:0 0;-webkit-text-stroke:0.3px #2e2e2e;">fL</div>
<!-- diag -->
<svg class="a" style="left:100px;top:2188px" width="84" height="74" viewBox="100 2188 84 74"><g fill="#c0030f"><circle cx="129.7" cy="2200.4" r="7.3"/><circle cx="153.1" cy="2200.4" r="7.3"/><circle cx="112.9" cy="2216.7" r="7.3"/><circle cx="170" cy="2216.7" r="7.3"/></g><g transform="translate(141.4 2210.1) rotate(45)"><rect x="0" y="0" width="25.5" height="41.6" rx="7.1" fill="#a90c12"/><rect x="0" y="0" width="41.6" height="25.5" rx="7.1" fill="#c71b24"/><path d="M7.1 0 H25.5 V25.5 H0 V7.1 Q0 0 7.1 0Z" fill="#bf020c"/></g></svg>
<div class="t" style="top:2187.62px;font-size:16.40px;color:#a3151c;font-weight:700;left:220.72px;transform:scaleX(1.0285);transform-origin:50% 0;">Diagnosis</div>
<div class="t" style="top:2210.02px;font-size:16.40px;color:#a3151c;font-weight:700;left:209.47px;transform:scaleX(1.0420);transform-origin:50% 0;">implications:</div>
<div class="t" style="top:2187.64px;font-size:14.60px;color:#000;font-weight:700;left:330.60px;">Leucocytosis</div>
<div class="t" style="top:2187.64px;font-size:14.60px;color:#000;font-weight:700;left:556.50px;transform:scaleX(1.0827);transform-origin:0 0;">Neutrophilia</div>
<svg class="a" style="left:74px;top:2299px" width="20" height="20" viewBox="74 2299 20 20"><path d="M74.9 2299.9 H87.4 L90.3 2303.2 V2317.1 H74.9 Z" fill="#fff"/><path d="M90.9 2304.3 H92.7 V2314.6 L90.9 2316.6" fill="none" stroke="#ffe3e5" stroke-width="1.5"/><rect x="78.2" y="2303.2" width="8.7" height="2.4" fill="#b2000d"/><rect x="78.2" y="2307.8" width="8.7" height="1.9" fill="#b2000d"/><rect x="78.2" y="2311.5" width="8.7" height="1.9" fill="#b2000d"/></svg>
<div class="t" style="top:2298.84px;font-size:19.80px;color:#fff;font-weight:700;left:103.60px;transform:scaleX(1.0235);transform-origin:0 0;">Report Explan.</div>
<div class="t" style="top:2330.14px;font-size:14.60px;color:#000;font-weight:700;left:132.50px;">Leucocytosis</div>
<div class="t" style="top:2370.44px;font-size:14.60px;color:#000;font-weight:700;left:132.40px;transform:scaleX(1.0827);transform-origin:0 0;">Neutrophilia</div>
<div class="t" style="top:2329.46px;font-size:15.40px;color:#000;left:292.50px;transform:scaleX(1.0088);transform-origin:0 0;">It occurs in bacterial infection, burn, post-operation, malignant tumor, leukemia, etc</div>
<div class="t" style="top:2360.46px;font-size:15.40px;color:#000;left:292.50px;">It occurs in stress response or corticosteroid response, inflammation, granulocytic leukemia, and immune-</div>
<div class="t" style="top:2379.46px;font-size:15.40px;color:#000;left:292.50px;transform:scaleX(0.9827);transform-origin:0 0;">mediated diseases</div>
</div></body></html>
